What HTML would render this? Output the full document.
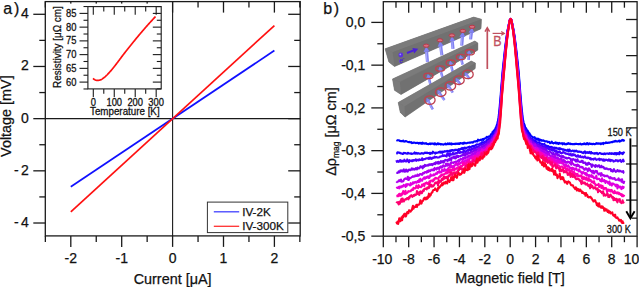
<!DOCTYPE html>
<html><head><meta charset="utf-8"><style>
html,body{margin:0;padding:0;background:#fff;}
svg{display:block;font-family:"Liberation Sans", sans-serif;}
</style></head><body>
<svg width="639" height="287" viewBox="0 0 639 287">
<rect width="639" height="287" fill="#fff"/>
<line x1="45.30" y1="118.65" x2="300.20" y2="118.65" stroke="#1a1a1a" stroke-width="1.1" />
<line x1="172.60" y1="1.60" x2="172.60" y2="235.90" stroke="#1a1a1a" stroke-width="1.1" />
<line x1="70.80" y1="186.74" x2="274.40" y2="50.56" stroke="#1010ff" stroke-width="1.7" />
<line x1="70.80" y1="211.79" x2="274.40" y2="25.51" stroke="#ff1010" stroke-width="1.7" />
<rect x="45.3" y="1.6" width="254.89999999999998" height="234.3" fill="none" stroke="#1a1a1a" stroke-width="1.3"/>
<line x1="33.30" y1="223.01" x2="45.30" y2="223.01" stroke="#1a1a1a" stroke-width="1.3" />
<line x1="288.20" y1="223.01" x2="300.20" y2="223.01" stroke="#1a1a1a" stroke-width="1.3" />
<line x1="39.30" y1="196.92" x2="45.30" y2="196.92" stroke="#1a1a1a" stroke-width="1.3" />
<line x1="294.20" y1="196.92" x2="300.20" y2="196.92" stroke="#1a1a1a" stroke-width="1.3" />
<line x1="33.30" y1="170.83" x2="45.30" y2="170.83" stroke="#1a1a1a" stroke-width="1.3" />
<line x1="288.20" y1="170.83" x2="300.20" y2="170.83" stroke="#1a1a1a" stroke-width="1.3" />
<line x1="39.30" y1="144.74" x2="45.30" y2="144.74" stroke="#1a1a1a" stroke-width="1.3" />
<line x1="294.20" y1="144.74" x2="300.20" y2="144.74" stroke="#1a1a1a" stroke-width="1.3" />
<line x1="33.30" y1="118.65" x2="45.30" y2="118.65" stroke="#1a1a1a" stroke-width="1.3" />
<line x1="288.20" y1="118.65" x2="300.20" y2="118.65" stroke="#1a1a1a" stroke-width="1.3" />
<line x1="39.30" y1="92.56" x2="45.30" y2="92.56" stroke="#1a1a1a" stroke-width="1.3" />
<line x1="294.20" y1="92.56" x2="300.20" y2="92.56" stroke="#1a1a1a" stroke-width="1.3" />
<line x1="33.30" y1="66.47" x2="45.30" y2="66.47" stroke="#1a1a1a" stroke-width="1.3" />
<line x1="288.20" y1="66.47" x2="300.20" y2="66.47" stroke="#1a1a1a" stroke-width="1.3" />
<line x1="39.30" y1="40.38" x2="45.30" y2="40.38" stroke="#1a1a1a" stroke-width="1.3" />
<line x1="294.20" y1="40.38" x2="300.20" y2="40.38" stroke="#1a1a1a" stroke-width="1.3" />
<line x1="33.30" y1="14.29" x2="45.30" y2="14.29" stroke="#1a1a1a" stroke-width="1.3" />
<line x1="288.20" y1="14.29" x2="300.20" y2="14.29" stroke="#1a1a1a" stroke-width="1.3" />
<line x1="45.35" y1="235.90" x2="45.35" y2="241.90" stroke="#1a1a1a" stroke-width="1.3" />
<line x1="45.35" y1="1.60" x2="45.35" y2="7.60" stroke="#1a1a1a" stroke-width="1.3" />
<line x1="70.80" y1="235.90" x2="70.80" y2="246.90" stroke="#1a1a1a" stroke-width="1.3" />
<line x1="70.80" y1="1.60" x2="70.80" y2="12.60" stroke="#1a1a1a" stroke-width="1.3" />
<line x1="96.25" y1="235.90" x2="96.25" y2="241.90" stroke="#1a1a1a" stroke-width="1.3" />
<line x1="96.25" y1="1.60" x2="96.25" y2="7.60" stroke="#1a1a1a" stroke-width="1.3" />
<line x1="121.70" y1="235.90" x2="121.70" y2="246.90" stroke="#1a1a1a" stroke-width="1.3" />
<line x1="121.70" y1="1.60" x2="121.70" y2="12.60" stroke="#1a1a1a" stroke-width="1.3" />
<line x1="147.15" y1="235.90" x2="147.15" y2="241.90" stroke="#1a1a1a" stroke-width="1.3" />
<line x1="147.15" y1="1.60" x2="147.15" y2="7.60" stroke="#1a1a1a" stroke-width="1.3" />
<line x1="172.60" y1="235.90" x2="172.60" y2="246.90" stroke="#1a1a1a" stroke-width="1.3" />
<line x1="172.60" y1="1.60" x2="172.60" y2="12.60" stroke="#1a1a1a" stroke-width="1.3" />
<line x1="198.05" y1="235.90" x2="198.05" y2="241.90" stroke="#1a1a1a" stroke-width="1.3" />
<line x1="198.05" y1="1.60" x2="198.05" y2="7.60" stroke="#1a1a1a" stroke-width="1.3" />
<line x1="223.50" y1="235.90" x2="223.50" y2="246.90" stroke="#1a1a1a" stroke-width="1.3" />
<line x1="223.50" y1="1.60" x2="223.50" y2="12.60" stroke="#1a1a1a" stroke-width="1.3" />
<line x1="248.95" y1="235.90" x2="248.95" y2="241.90" stroke="#1a1a1a" stroke-width="1.3" />
<line x1="248.95" y1="1.60" x2="248.95" y2="7.60" stroke="#1a1a1a" stroke-width="1.3" />
<line x1="274.40" y1="235.90" x2="274.40" y2="246.90" stroke="#1a1a1a" stroke-width="1.3" />
<line x1="274.40" y1="1.60" x2="274.40" y2="12.60" stroke="#1a1a1a" stroke-width="1.3" />
<line x1="299.85" y1="235.90" x2="299.85" y2="241.90" stroke="#1a1a1a" stroke-width="1.3" />
<line x1="299.85" y1="1.60" x2="299.85" y2="7.60" stroke="#1a1a1a" stroke-width="1.3" />
<text x="28.70" y="18.19" font-size="14" text-anchor="end" fill="#111" stroke="#111" stroke-width="0.25" >4</text>
<text x="28.70" y="70.37" font-size="14" text-anchor="end" fill="#111" stroke="#111" stroke-width="0.25" >2</text>
<text x="28.70" y="122.55" font-size="14" text-anchor="end" fill="#111" stroke="#111" stroke-width="0.25" >0</text>
<text x="28.70" y="174.73" font-size="14" text-anchor="end" fill="#111" stroke="#111" stroke-width="0.25" >-<tspan dx="2.2">2</tspan></text>
<text x="28.70" y="226.91" font-size="14" text-anchor="end" fill="#111" stroke="#111" stroke-width="0.25" >-<tspan dx="2.2">4</tspan></text>
<text x="70.80" y="263.40" font-size="14" text-anchor="middle" fill="#111" stroke="#111" stroke-width="0.25" >-2</text>
<text x="121.70" y="263.40" font-size="14" text-anchor="middle" fill="#111" stroke="#111" stroke-width="0.25" >-1</text>
<text x="172.60" y="263.40" font-size="14" text-anchor="middle" fill="#111" stroke="#111" stroke-width="0.25" >0</text>
<text x="223.50" y="263.40" font-size="14" text-anchor="middle" fill="#111" stroke="#111" stroke-width="0.25" >1</text>
<text x="274.40" y="263.40" font-size="14" text-anchor="middle" fill="#111" stroke="#111" stroke-width="0.25" >2</text>
<text x="172.60" y="283.80" font-size="14.4" text-anchor="middle" fill="#111" stroke="#111" stroke-width="0.25" >Current [μA]</text>
<text transform="translate(11.2,116.1) rotate(-90)" font-size="14.4" text-anchor="middle" fill="#111" stroke="#111" stroke-width="0.25">Voltage [mV]</text>
<text x="3.30" y="14.20" font-size="16" text-anchor="start" fill="#111" stroke="#111" stroke-width="0.25" >a<tspan dx="1.8">)</tspan></text>
<rect x="207.4" y="202.1" width="80.4" height="30.5" fill="#fff" stroke="#333" stroke-width="1"/>
<line x1="213.80" y1="211.80" x2="239.20" y2="211.80" stroke="#4040ff" stroke-width="1.3" />
<line x1="213.80" y1="226.30" x2="239.20" y2="226.30" stroke="#ff3030" stroke-width="1.3" />
<text x="242.20" y="215.80" font-size="11.7" text-anchor="start" fill="#111" stroke="#111" stroke-width="0.25" >IV-2K</text>
<text x="242.20" y="229.80" font-size="11.7" text-anchor="start" fill="#111" stroke="#111" stroke-width="0.25" >IV-300K</text>
<rect x="46.3" y="3.6" width="124.6" height="113.6" fill="#fff"/>
<rect x="87.9" y="6.6" width="73.29999999999998" height="82.30000000000001" fill="none" stroke="#1a1a1a" stroke-width="1.1"/>
<line x1="83.50" y1="88.97" x2="87.90" y2="88.97" stroke="#1a1a1a" stroke-width="1.1" />
<line x1="156.80" y1="88.97" x2="161.20" y2="88.97" stroke="#1a1a1a" stroke-width="1.1" />
<line x1="79.50" y1="82.10" x2="87.90" y2="82.10" stroke="#1a1a1a" stroke-width="1.1" />
<line x1="152.80" y1="82.10" x2="161.20" y2="82.10" stroke="#1a1a1a" stroke-width="1.1" />
<line x1="83.50" y1="75.23" x2="87.90" y2="75.23" stroke="#1a1a1a" stroke-width="1.1" />
<line x1="156.80" y1="75.23" x2="161.20" y2="75.23" stroke="#1a1a1a" stroke-width="1.1" />
<line x1="79.50" y1="68.36" x2="87.90" y2="68.36" stroke="#1a1a1a" stroke-width="1.1" />
<line x1="152.80" y1="68.36" x2="161.20" y2="68.36" stroke="#1a1a1a" stroke-width="1.1" />
<line x1="83.50" y1="61.49" x2="87.90" y2="61.49" stroke="#1a1a1a" stroke-width="1.1" />
<line x1="156.80" y1="61.49" x2="161.20" y2="61.49" stroke="#1a1a1a" stroke-width="1.1" />
<line x1="79.50" y1="54.62" x2="87.90" y2="54.62" stroke="#1a1a1a" stroke-width="1.1" />
<line x1="152.80" y1="54.62" x2="161.20" y2="54.62" stroke="#1a1a1a" stroke-width="1.1" />
<line x1="83.50" y1="47.75" x2="87.90" y2="47.75" stroke="#1a1a1a" stroke-width="1.1" />
<line x1="156.80" y1="47.75" x2="161.20" y2="47.75" stroke="#1a1a1a" stroke-width="1.1" />
<line x1="79.50" y1="40.88" x2="87.90" y2="40.88" stroke="#1a1a1a" stroke-width="1.1" />
<line x1="152.80" y1="40.88" x2="161.20" y2="40.88" stroke="#1a1a1a" stroke-width="1.1" />
<line x1="83.50" y1="34.01" x2="87.90" y2="34.01" stroke="#1a1a1a" stroke-width="1.1" />
<line x1="156.80" y1="34.01" x2="161.20" y2="34.01" stroke="#1a1a1a" stroke-width="1.1" />
<line x1="79.50" y1="27.14" x2="87.90" y2="27.14" stroke="#1a1a1a" stroke-width="1.1" />
<line x1="152.80" y1="27.14" x2="161.20" y2="27.14" stroke="#1a1a1a" stroke-width="1.1" />
<line x1="83.50" y1="20.27" x2="87.90" y2="20.27" stroke="#1a1a1a" stroke-width="1.1" />
<line x1="156.80" y1="20.27" x2="161.20" y2="20.27" stroke="#1a1a1a" stroke-width="1.1" />
<line x1="79.50" y1="13.40" x2="87.90" y2="13.40" stroke="#1a1a1a" stroke-width="1.1" />
<line x1="152.80" y1="13.40" x2="161.20" y2="13.40" stroke="#1a1a1a" stroke-width="1.1" />
<line x1="83.50" y1="6.53" x2="87.90" y2="6.53" stroke="#1a1a1a" stroke-width="1.1" />
<line x1="156.80" y1="6.53" x2="161.20" y2="6.53" stroke="#1a1a1a" stroke-width="1.1" />
<line x1="93.30" y1="88.90" x2="93.30" y2="97.10" stroke="#1a1a1a" stroke-width="1.1" />
<line x1="93.30" y1="6.60" x2="93.30" y2="14.80" stroke="#1a1a1a" stroke-width="1.1" />
<line x1="103.78" y1="88.90" x2="103.78" y2="93.70" stroke="#1a1a1a" stroke-width="1.1" />
<line x1="103.78" y1="6.60" x2="103.78" y2="11.40" stroke="#1a1a1a" stroke-width="1.1" />
<line x1="114.26" y1="88.90" x2="114.26" y2="97.10" stroke="#1a1a1a" stroke-width="1.1" />
<line x1="114.26" y1="6.60" x2="114.26" y2="14.80" stroke="#1a1a1a" stroke-width="1.1" />
<line x1="124.74" y1="88.90" x2="124.74" y2="93.70" stroke="#1a1a1a" stroke-width="1.1" />
<line x1="124.74" y1="6.60" x2="124.74" y2="11.40" stroke="#1a1a1a" stroke-width="1.1" />
<line x1="135.22" y1="88.90" x2="135.22" y2="97.10" stroke="#1a1a1a" stroke-width="1.1" />
<line x1="135.22" y1="6.60" x2="135.22" y2="14.80" stroke="#1a1a1a" stroke-width="1.1" />
<line x1="145.70" y1="88.90" x2="145.70" y2="93.70" stroke="#1a1a1a" stroke-width="1.1" />
<line x1="145.70" y1="6.60" x2="145.70" y2="11.40" stroke="#1a1a1a" stroke-width="1.1" />
<line x1="156.18" y1="88.90" x2="156.18" y2="97.10" stroke="#1a1a1a" stroke-width="1.1" />
<line x1="156.18" y1="6.60" x2="156.18" y2="14.80" stroke="#1a1a1a" stroke-width="1.1" />
<text transform="translate(76.40,85.60) scale(1,1.18)" font-size="9.4" text-anchor="end" fill="#111" stroke="#111" stroke-width="0.25" >60</text>
<text transform="translate(76.40,71.86) scale(1,1.18)" font-size="9.4" text-anchor="end" fill="#111" stroke="#111" stroke-width="0.25" >65</text>
<text transform="translate(76.40,58.12) scale(1,1.18)" font-size="9.4" text-anchor="end" fill="#111" stroke="#111" stroke-width="0.25" >70</text>
<text transform="translate(76.40,44.38) scale(1,1.18)" font-size="9.4" text-anchor="end" fill="#111" stroke="#111" stroke-width="0.25" >75</text>
<text transform="translate(76.40,30.64) scale(1,1.18)" font-size="9.4" text-anchor="end" fill="#111" stroke="#111" stroke-width="0.25" >80</text>
<text transform="translate(76.40,16.90) scale(1,1.18)" font-size="9.4" text-anchor="end" fill="#111" stroke="#111" stroke-width="0.25" >85</text>
<text transform="translate(93.30,106.30) scale(1,1.18)" font-size="9.4" text-anchor="middle" fill="#111" stroke="#111" stroke-width="0.25" >0</text>
<text transform="translate(114.26,106.30) scale(1,1.18)" font-size="9.4" text-anchor="middle" fill="#111" stroke="#111" stroke-width="0.25" >100</text>
<text transform="translate(135.22,106.30) scale(1,1.18)" font-size="9.4" text-anchor="middle" fill="#111" stroke="#111" stroke-width="0.25" >200</text>
<text transform="translate(156.18,106.30) scale(1,1.18)" font-size="9.4" text-anchor="middle" fill="#111" stroke="#111" stroke-width="0.25" >300</text>
<text transform="translate(124.80,115.00) scale(1,1.12)" font-size="9.8" text-anchor="middle" fill="#111" stroke="#111" stroke-width="0.25" >Temperature [K]</text>
<text transform="translate(61.2,47.1) rotate(-90) scale(1,1.12)" font-size="9.9" text-anchor="middle" fill="#111" stroke="#111" stroke-width="0.25">Resistivity [μΩ cm]</text>
<polyline fill="none" stroke="#ff1010" stroke-width="1.7" stroke-linejoin="round" points="93.00,78.40 93.50,78.83 94.00,79.26 94.50,79.60 95.00,79.86 95.50,80.09 96.00,80.25 96.50,80.30 97.00,80.30 97.50,80.30 98.00,80.30 98.50,80.30 99.00,80.26 99.50,80.15 100.00,80.00 100.50,79.83 101.00,79.65 101.50,79.41 102.00,79.12 102.50,78.79 103.00,78.42 103.50,78.04 104.00,77.64 104.50,77.24 105.00,76.84 105.50,76.41 106.00,75.96 106.50,75.48 107.00,74.99 107.50,74.47 108.00,73.94 108.50,73.40 109.00,72.85 109.50,72.29 110.00,71.73 110.50,71.18 111.00,70.60 111.50,70.02 112.00,69.42 112.50,68.81 113.00,68.19 113.50,67.56 114.00,66.93 114.50,66.29 115.00,65.65 115.50,65.01 116.00,64.37 116.50,63.73 117.00,63.07 117.50,62.42 118.00,61.75 118.50,61.08 119.00,60.41 119.50,59.73 120.00,59.06 120.50,58.39 121.00,57.71 121.50,57.05 122.00,56.38 122.50,55.72 123.00,55.07 123.50,54.42 124.00,53.78 124.50,53.13 125.00,52.49 125.50,51.85 126.00,51.22 126.50,50.58 127.00,49.95 127.50,49.32 128.00,48.68 128.50,48.06 129.00,47.43 129.50,46.80 130.00,46.17 130.50,45.55 131.00,44.93 131.50,44.30 132.00,43.68 132.50,43.06 133.00,42.44 133.50,41.83 134.00,41.21 134.50,40.60 135.00,39.99 135.50,39.38 136.00,38.77 136.50,38.16 137.00,37.56 137.50,36.96 138.00,36.35 138.50,35.75 139.00,35.15 139.50,34.56 140.00,33.96 140.50,33.37 141.00,32.77 141.50,32.18 142.00,31.60 142.50,31.01 143.00,30.43 143.50,29.85 144.00,29.27 144.50,28.69 145.00,28.12 145.50,27.55 146.00,26.98 146.50,26.41 147.00,25.85 147.50,25.29 148.00,24.73 148.50,24.17 149.00,23.61 149.50,23.05 150.00,22.50 150.50,21.95 151.00,21.40 151.50,20.85 152.00,20.31 152.50,19.77 153.00,19.23 153.50,18.69 154.00,18.15 154.50,17.61 155.00,17.07 155.50,16.53"/>
<polyline fill="none" stroke="#0000ff" stroke-width="2.1" stroke-linejoin="round" points="396.39,140.11 396.96,140.45 397.53,140.27 398.10,140.32 398.67,140.18 399.25,140.51 399.82,141.06 400.39,140.90 400.96,141.20 401.53,141.01 402.10,141.14 402.67,141.16 403.24,140.59 403.81,141.56 404.38,141.53 404.96,141.61 405.53,140.93 406.10,141.00 406.67,141.38 407.24,141.62 407.81,141.97 408.38,141.93 408.95,142.21 409.52,141.89 410.10,142.30 410.67,142.41 411.24,142.12 411.81,143.03 412.38,142.70 412.95,142.99 413.52,142.43 414.09,142.46 414.66,142.66 415.23,142.81 415.81,143.13 416.38,143.05 416.95,142.87 417.52,142.74 418.09,142.94 418.66,143.60 419.23,142.93 419.80,143.34 420.37,143.44 420.95,142.80 421.52,143.38 422.09,143.85 422.66,142.72 423.23,143.35 423.80,143.46 424.37,143.24 424.94,143.73 425.51,143.57 426.08,143.11 426.66,143.94 427.23,143.92 427.80,144.04 428.37,144.25 428.94,143.90 429.51,143.84 430.08,143.37 430.65,144.07 431.22,143.66 431.80,143.74 432.37,143.48 432.94,143.61 433.51,143.78 434.08,144.43 434.65,143.29 435.22,143.51 435.79,144.12 436.36,144.55 436.93,144.26 437.51,143.41 438.08,143.20 438.65,144.21 439.22,143.84 439.79,143.71 440.36,144.44 440.93,144.49 441.50,144.15 442.07,144.18 442.65,144.24 443.22,144.64 443.79,144.29 444.36,144.25 444.93,144.25 445.50,143.50 446.07,144.48 446.64,144.35 447.21,144.19 447.78,143.30 448.36,143.75 448.93,144.25 449.50,143.30 450.07,143.85 450.64,144.26 451.21,143.42 451.78,144.42 452.35,144.03 452.92,143.77 453.49,143.91 454.07,144.01 454.64,143.80 455.21,144.13 455.78,143.47 456.35,143.53 456.92,144.01 457.49,143.63 458.06,143.28 458.63,143.88 459.21,144.03 459.78,143.32 460.35,142.95 460.92,143.35 461.49,143.30 462.06,143.20 462.63,143.75 463.20,142.85 463.77,143.60 464.34,142.67 464.92,142.78 465.49,143.22 466.06,143.34 466.63,143.19 467.20,142.95 467.77,142.81 468.34,142.75 468.91,142.83 469.48,142.50 470.06,142.59 470.63,142.61 471.20,142.32 471.77,142.48 472.34,142.30 472.91,142.68 473.48,141.96 474.05,141.55 474.62,141.42 475.19,141.40 475.77,141.57 476.34,140.97 476.91,141.06 477.48,141.40 478.05,139.69 478.62,140.03 479.19,140.35 479.76,140.24 480.33,140.03 480.91,139.65 481.48,139.88 482.05,139.60 482.62,139.16 483.19,140.03 483.76,139.14 484.33,138.63 484.90,138.59 485.47,138.32 486.04,138.13 486.62,136.93 487.19,137.42 487.76,137.63 488.33,136.52 488.90,136.53 489.47,136.48 490.04,136.01 490.61,135.74 490.93,134.30 491.25,134.42 491.56,134.05 491.88,133.98 492.20,133.72 492.52,131.95 492.83,132.82 493.15,131.46 493.47,131.74 493.79,130.51 494.10,130.61 494.42,130.48 494.74,129.50 495.05,129.07 495.37,128.70 495.69,127.84 496.01,127.07 496.32,126.88 496.64,125.87 496.96,124.46 497.28,124.46 497.59,121.89 497.91,121.24 498.23,119.30 498.54,117.40 498.86,115.00 499.18,112.00 499.50,109.00 499.81,105.42 500.13,101.95 500.45,98.56 500.77,94.36 501.08,90.40 501.40,86.40 501.72,82.66 502.03,78.45 502.35,74.62 502.67,70.84 502.99,67.72 503.30,64.56 503.62,61.77 503.94,58.89 504.25,55.79 504.57,53.07 504.89,50.21 505.21,47.41 505.52,44.68 505.84,42.33 506.16,39.86 506.48,37.53 506.79,35.37 507.11,33.30 507.43,31.44 507.74,29.58 508.06,28.13 508.38,26.67 508.70,25.18 509.01,23.48 509.33,21.66 509.65,20.41 509.97,19.76 510.28,19.38 510.60,19.07 510.92,19.36 511.23,19.64 511.55,20.34 511.87,21.60 512.19,23.53 512.50,25.13 512.82,26.56 513.14,28.07 513.46,29.68 513.77,31.37 514.09,33.35 514.41,35.35 514.72,37.61 515.04,39.94 515.36,42.34 515.68,44.74 515.99,47.46 516.31,50.06 516.63,52.91 516.94,55.71 517.26,58.85 517.58,61.60 517.90,64.67 518.21,67.70 518.53,70.94 518.85,74.37 519.17,78.38 519.48,82.73 519.80,86.62 520.12,90.64 520.43,94.69 520.75,98.42 521.07,102.00 521.39,105.61 521.70,109.09 522.02,111.61 522.34,114.71 522.66,117.59 522.97,119.55 523.29,120.92 523.61,122.57 523.92,123.56 524.24,124.15 524.56,124.96 524.88,126.12 525.19,127.42 525.51,127.59 525.83,128.10 526.15,128.73 526.46,129.01 526.78,130.02 527.10,130.14 527.41,131.16 527.73,130.67 528.05,132.08 528.37,132.21 528.68,132.21 529.00,133.59 529.32,133.66 529.63,133.39 529.95,134.24 530.27,135.00 530.59,135.06 530.90,135.77 531.22,136.02 531.79,136.43 532.36,136.71 532.93,137.44 533.51,137.54 534.08,137.79 534.65,137.19 535.22,138.50 535.79,138.88 536.36,138.54 536.93,138.68 537.50,139.71 538.07,138.59 538.64,139.53 539.22,140.36 539.79,139.34 540.36,140.06 540.93,140.63 541.50,140.08 542.07,140.48 542.64,140.76 543.21,140.29 543.78,140.74 544.36,141.04 544.93,141.39 545.50,141.25 546.07,141.35 546.64,141.22 547.21,141.59 547.78,142.17 548.35,142.03 548.92,141.82 549.49,141.93 550.07,143.26 550.64,142.82 551.21,142.72 551.78,141.66 552.35,142.86 552.92,142.87 553.49,143.36 554.06,142.98 554.63,142.87 555.21,143.13 555.78,142.33 556.35,143.43 556.92,143.23 557.49,142.92 558.06,143.68 558.63,143.90 559.20,142.82 559.77,143.12 560.34,143.50 560.92,143.51 561.49,143.34 562.06,143.18 562.63,144.30 563.20,143.95 563.77,143.20 564.34,143.18 564.91,144.28 565.48,144.05 566.06,144.37 566.63,144.04 567.20,143.48 567.77,143.89 568.34,143.07 568.91,143.58 569.48,143.84 570.05,144.07 570.62,143.65 571.19,143.88 571.77,144.10 572.34,144.09 572.91,144.20 573.48,144.06 574.05,143.89 574.62,144.30 575.19,144.05 575.76,143.76 576.33,143.84 576.91,144.07 577.48,144.04 578.05,144.14 578.62,144.09 579.19,144.16 579.76,144.05 580.33,143.66 580.90,144.25 581.47,144.47 582.04,144.24 582.62,144.02 583.19,144.23 583.76,143.73 584.33,143.39 584.90,144.07 585.47,143.71 586.04,144.28 586.61,143.62 587.18,143.06 587.76,143.60 588.33,144.49 588.90,143.79 589.47,143.42 590.04,143.61 590.61,144.03 591.18,144.00 591.75,143.86 592.32,144.29 592.89,143.99 593.47,143.70 594.04,143.89 594.61,144.23 595.18,143.96 595.75,143.95 596.32,143.18 596.89,143.47 597.46,143.75 598.03,143.35 598.61,143.80 599.18,143.60 599.75,143.67 600.32,143.25 600.89,144.18 601.46,143.69 602.03,143.14 602.60,143.20 603.17,144.03 603.74,142.95 604.32,143.32 604.89,143.30 605.46,142.90 606.03,142.43 606.60,142.84 607.17,142.83 607.74,143.03 608.31,142.84 608.88,142.50 609.46,142.72 610.03,142.53 610.60,142.34 611.17,142.21 611.74,142.02 612.31,142.26 612.88,141.57 613.45,141.64 614.02,141.77 614.59,141.17 615.17,141.45 615.74,140.81 616.31,141.19 616.88,141.54 617.45,141.45 618.02,141.15 618.59,141.00 619.16,140.50 619.73,141.55 620.31,141.01 620.88,141.13 621.45,140.35 622.02,140.51 622.59,139.86 623.16,140.69 623.73,140.67 624.30,139.60"/>
<polyline fill="none" stroke="#2200ff" stroke-width="2.1" stroke-linejoin="round" points="396.39,153.01 396.96,153.35 397.53,152.27 398.10,152.27 398.67,152.65 399.25,152.87 399.82,152.55 400.39,153.23 400.96,153.36 401.53,153.57 402.10,153.62 402.67,154.02 403.24,153.89 403.81,152.78 404.38,153.18 404.96,152.95 405.53,152.96 406.10,153.45 406.67,153.51 407.24,153.75 407.81,152.82 408.38,153.00 408.95,153.58 409.52,153.51 410.10,153.48 410.67,153.60 411.24,153.30 411.81,153.98 412.38,153.83 412.95,153.63 413.52,153.37 414.09,153.60 414.66,152.42 415.23,153.22 415.81,153.68 416.38,152.97 416.95,153.74 417.52,153.70 418.09,152.99 418.66,153.49 419.23,153.43 419.80,153.76 420.37,153.81 420.95,153.48 421.52,153.07 422.09,153.36 422.66,153.37 423.23,153.70 423.80,153.47 424.37,152.97 424.94,152.64 425.51,153.06 426.08,152.85 426.66,152.65 427.23,153.07 427.80,152.86 428.37,153.09 428.94,153.25 429.51,152.78 430.08,154.00 430.65,152.74 431.22,153.35 431.80,152.86 432.37,153.27 432.94,151.62 433.51,152.33 434.08,152.74 434.65,152.85 435.22,153.60 435.79,152.63 436.36,153.02 436.93,152.73 437.51,152.76 438.08,152.51 438.65,152.15 439.22,152.40 439.79,151.61 440.36,152.59 440.93,151.51 441.50,152.02 442.07,152.80 442.65,151.64 443.22,151.67 443.79,152.12 444.36,151.52 444.93,151.05 445.50,151.46 446.07,151.53 446.64,151.50 447.21,150.74 447.78,151.82 448.36,151.69 448.93,150.85 449.50,150.88 450.07,150.48 450.64,151.24 451.21,150.19 451.78,150.74 452.35,150.12 452.92,149.94 453.49,150.51 454.07,150.71 454.64,150.00 455.21,149.61 455.78,150.21 456.35,149.72 456.92,149.80 457.49,150.26 458.06,149.99 458.63,149.13 459.21,150.33 459.78,149.18 460.35,149.44 460.92,148.68 461.49,148.86 462.06,147.97 462.63,149.49 463.20,149.18 463.77,147.89 464.34,147.64 464.92,147.47 465.49,148.64 466.06,147.77 466.63,147.84 467.20,147.60 467.77,147.56 468.34,146.99 468.91,147.37 469.48,146.57 470.06,147.06 470.63,147.10 471.20,147.02 471.77,146.53 472.34,146.05 472.91,146.36 473.48,145.88 474.05,146.62 474.62,146.06 475.19,145.44 475.77,145.07 476.34,144.75 476.91,144.42 477.48,144.47 478.05,144.55 478.62,144.43 479.19,144.24 479.76,144.72 480.33,143.21 480.91,143.33 481.48,144.40 482.05,142.04 482.62,142.45 483.19,142.54 483.76,142.30 484.33,142.17 484.90,141.62 485.47,141.61 486.04,141.17 486.62,141.18 487.19,139.62 487.76,139.71 488.33,139.72 488.90,138.83 489.47,138.37 490.04,138.66 490.61,137.54 490.93,137.80 491.25,137.48 491.56,136.89 491.88,136.57 492.20,135.85 492.52,134.80 492.83,134.97 493.15,134.73 493.47,133.79 493.79,133.51 494.10,133.41 494.42,132.16 494.74,132.34 495.05,132.35 495.37,130.65 495.69,130.35 496.01,129.55 496.32,129.59 496.64,128.23 496.96,127.59 497.28,125.85 497.59,125.02 497.91,123.75 498.23,121.75 498.54,120.89 498.86,118.40 499.18,114.96 499.50,112.64 499.81,109.25 500.13,105.94 500.45,102.17 500.77,97.81 501.08,94.06 501.40,90.34 501.72,85.72 502.03,81.46 502.35,77.47 502.67,73.95 502.99,70.88 503.30,67.90 503.62,64.67 503.94,61.60 504.25,58.73 504.57,55.44 504.89,52.43 505.21,49.62 505.52,46.82 505.84,44.01 506.16,41.42 506.48,39.04 506.79,36.66 507.11,34.32 507.43,32.30 507.74,30.37 508.06,28.71 508.38,27.05 508.70,25.48 509.01,23.79 509.33,22.03 509.65,20.57 509.97,19.76 510.28,19.44 510.60,18.95 510.92,19.39 511.23,19.84 511.55,20.58 511.87,21.93 512.19,23.81 512.50,25.50 512.82,26.96 513.14,28.68 513.46,30.36 513.77,32.34 514.09,34.33 514.41,36.51 514.72,39.02 515.04,41.52 515.36,44.04 515.68,46.84 515.99,49.56 516.31,52.44 516.63,55.52 516.94,58.38 517.26,61.50 517.58,64.62 517.90,67.79 518.21,70.81 518.53,74.18 518.85,77.59 519.17,81.69 519.48,86.14 519.80,89.91 520.12,94.59 520.43,98.00 520.75,102.09 521.07,105.87 521.39,109.55 521.70,112.12 522.02,114.87 522.34,118.32 522.66,120.70 522.97,122.50 523.29,124.60 523.61,125.12 523.92,126.29 524.24,127.61 524.56,128.25 524.88,129.65 525.19,129.05 525.51,130.11 525.83,129.33 526.15,131.87 526.46,131.87 526.78,132.99 527.10,134.06 527.41,133.55 527.73,133.92 528.05,134.29 528.37,134.60 528.68,135.16 529.00,136.20 529.32,136.35 529.63,136.78 529.95,137.06 530.27,137.93 530.59,138.07 530.90,138.08 531.22,138.73 531.79,138.84 532.36,138.82 532.93,140.44 533.51,140.38 534.08,140.09 534.65,141.36 535.22,141.34 535.79,140.76 536.36,142.50 536.93,142.17 537.50,142.67 538.07,142.58 538.64,142.64 539.22,142.21 539.79,143.58 540.36,143.36 540.93,143.43 541.50,143.94 542.07,144.04 542.64,144.53 543.21,144.27 543.78,144.64 544.36,143.90 544.93,144.90 545.50,145.62 546.07,146.14 546.64,145.56 547.21,145.87 547.78,146.85 548.35,146.16 548.92,146.82 549.49,147.43 550.07,146.84 550.64,147.54 551.21,146.78 551.78,147.34 552.35,147.34 552.92,147.56 553.49,148.15 554.06,148.86 554.63,147.57 555.21,147.73 555.78,148.35 556.35,147.75 556.92,148.58 557.49,148.72 558.06,148.44 558.63,148.92 559.20,148.07 559.77,149.24 560.34,148.28 560.92,148.77 561.49,148.93 562.06,149.10 562.63,149.78 563.20,149.52 563.77,149.39 564.34,149.91 564.91,150.48 565.48,149.85 566.06,150.10 566.63,150.59 567.20,150.22 567.77,149.59 568.34,151.41 568.91,151.37 569.48,149.52 570.05,150.50 570.62,150.79 571.19,151.13 571.77,151.08 572.34,150.73 572.91,150.45 573.48,151.07 574.05,151.58 574.62,150.68 575.19,150.79 575.76,151.34 576.33,150.54 576.91,151.39 577.48,151.39 578.05,151.88 578.62,151.43 579.19,151.43 579.76,151.73 580.33,151.97 580.90,151.75 581.47,152.12 582.04,152.51 582.62,152.77 583.19,153.06 583.76,151.97 584.33,152.19 584.90,151.29 585.47,153.36 586.04,152.20 586.61,152.57 587.18,152.87 587.76,152.05 588.33,152.93 588.90,152.75 589.47,151.97 590.04,152.99 590.61,153.44 591.18,152.07 591.75,153.34 592.32,153.11 592.89,153.27 593.47,153.29 594.04,153.73 594.61,153.06 595.18,153.60 595.75,153.04 596.32,153.60 596.89,152.93 597.46,153.29 598.03,154.16 598.61,153.61 599.18,153.36 599.75,152.94 600.32,153.13 600.89,153.62 601.46,153.99 602.03,153.78 602.60,153.84 603.17,153.60 603.74,154.26 604.32,153.47 604.89,153.41 605.46,154.08 606.03,153.70 606.60,153.55 607.17,153.41 607.74,153.56 608.31,153.96 608.88,153.83 609.46,153.10 610.03,153.84 610.60,153.71 611.17,153.16 611.74,153.96 612.31,153.46 612.88,153.41 613.45,153.91 614.02,154.13 614.59,153.19 615.17,153.68 615.74,153.05 616.31,154.50 616.88,153.18 617.45,153.93 618.02,153.06 618.59,153.70 619.16,154.32 619.73,152.10 620.31,153.04 620.88,153.45 621.45,153.15 622.02,152.85 622.59,154.12 623.16,153.14 623.73,152.32 624.30,153.45"/>
<polyline fill="none" stroke="#4a00ff" stroke-width="2.1" stroke-linejoin="round" points="396.39,160.25 396.96,161.87 397.53,160.87 398.10,161.26 398.67,161.88 399.25,161.21 399.82,160.33 400.39,160.14 400.96,161.76 401.53,161.49 402.10,160.58 402.67,161.52 403.24,161.29 403.81,161.36 404.38,159.68 404.96,160.77 405.53,161.43 406.10,161.31 406.67,161.37 407.24,159.44 407.81,160.91 408.38,161.07 408.95,162.21 409.52,160.18 410.10,160.50 410.67,160.67 411.24,161.12 411.81,160.32 412.38,161.19 412.95,160.04 413.52,160.60 414.09,160.10 414.66,160.44 415.23,159.90 415.81,159.33 416.38,160.81 416.95,160.30 417.52,159.75 418.09,160.12 418.66,160.50 419.23,159.31 419.80,159.73 420.37,160.02 420.95,159.94 421.52,159.37 422.09,158.28 422.66,160.11 423.23,159.51 423.80,159.25 424.37,159.01 424.94,159.23 425.51,158.76 426.08,158.34 426.66,158.42 427.23,158.42 427.80,158.32 428.37,157.93 428.94,158.87 429.51,157.67 430.08,158.71 430.65,157.67 431.22,158.36 431.80,158.86 432.37,158.10 432.94,157.48 433.51,157.83 434.08,157.80 434.65,156.64 435.22,157.19 435.79,157.53 436.36,157.08 436.93,157.30 437.51,157.58 438.08,157.50 438.65,157.49 439.22,157.21 439.79,156.61 440.36,156.66 440.93,156.42 441.50,156.27 442.07,156.22 442.65,155.22 443.22,155.89 443.79,155.94 444.36,155.28 444.93,155.69 445.50,155.88 446.07,155.37 446.64,156.52 447.21,153.73 447.78,154.98 448.36,153.93 448.93,155.41 449.50,156.24 450.07,153.18 450.64,154.56 451.21,154.66 451.78,154.07 452.35,154.44 452.92,152.73 453.49,154.37 454.07,153.98 454.64,153.66 455.21,153.19 455.78,153.76 456.35,153.00 456.92,153.28 457.49,152.73 458.06,151.61 458.63,152.75 459.21,152.75 459.78,152.93 460.35,151.86 460.92,152.21 461.49,152.44 462.06,152.03 462.63,152.52 463.20,152.80 463.77,151.00 464.34,150.28 464.92,151.71 465.49,151.94 466.06,151.44 466.63,151.23 467.20,150.25 467.77,150.04 468.34,150.79 468.91,149.60 469.48,148.91 470.06,149.21 470.63,151.02 471.20,150.51 471.77,148.82 472.34,148.59 472.91,148.93 473.48,148.15 474.05,149.10 474.62,148.07 475.19,147.26 475.77,148.39 476.34,147.06 476.91,147.27 477.48,146.89 478.05,146.46 478.62,146.57 479.19,145.74 479.76,144.83 480.33,144.37 480.91,144.66 481.48,144.70 482.05,144.87 482.62,144.66 483.19,144.69 483.76,144.17 484.33,143.37 484.90,143.13 485.47,142.01 486.04,142.79 486.62,142.82 487.19,142.47 487.76,141.71 488.33,141.25 488.90,141.44 489.47,140.44 490.04,140.34 490.61,139.70 490.93,139.15 491.25,139.40 491.56,137.93 491.88,137.63 492.20,136.94 492.52,136.49 492.83,137.36 493.15,137.00 493.47,135.53 493.79,135.35 494.10,135.20 494.42,134.48 494.74,134.18 495.05,132.22 495.37,132.00 495.69,132.00 496.01,131.90 496.32,130.42 496.64,129.09 496.96,128.50 497.28,127.35 497.59,126.14 497.91,126.25 498.23,123.77 498.54,122.27 498.86,120.84 499.18,117.88 499.50,114.63 499.81,111.17 500.13,108.05 500.45,104.67 500.77,100.41 501.08,96.48 501.40,92.06 501.72,87.90 502.03,83.51 502.35,79.67 502.67,76.23 502.99,72.40 503.30,69.43 503.62,66.35 503.94,63.13 504.25,60.04 504.57,57.01 504.89,54.00 505.21,50.90 505.52,47.97 505.84,45.01 506.16,42.62 506.48,39.88 506.79,37.40 507.11,34.97 507.43,32.87 507.74,30.77 508.06,29.03 508.38,27.38 508.70,25.71 509.01,24.02 509.33,22.03 509.65,20.66 509.97,19.75 510.28,19.23 510.60,18.98 510.92,19.32 511.23,19.72 511.55,20.51 511.87,22.13 512.19,23.90 512.50,25.70 512.82,27.46 513.14,29.09 513.46,30.85 513.77,32.88 514.09,35.05 514.41,37.39 514.72,39.93 515.04,42.45 515.36,44.94 515.68,47.94 515.99,50.77 516.31,53.89 516.63,56.87 516.94,60.10 517.26,63.49 517.58,66.17 517.90,69.27 518.21,72.40 518.53,75.55 518.85,79.21 519.17,83.63 519.48,87.63 519.80,91.59 520.12,95.78 520.43,100.41 520.75,103.99 521.07,107.81 521.39,111.47 521.70,114.96 522.02,118.14 522.34,120.43 522.66,122.31 522.97,124.08 523.29,126.12 523.61,127.44 523.92,127.55 524.24,128.96 524.56,129.74 524.88,130.39 525.19,130.79 525.51,130.99 525.83,132.06 526.15,132.06 526.46,134.19 526.78,134.33 527.10,133.84 527.41,135.82 527.73,136.02 528.05,134.91 528.37,137.52 528.68,137.40 529.00,138.57 529.32,137.13 529.63,138.56 529.95,138.89 530.27,139.14 530.59,139.47 530.90,140.29 531.22,139.13 531.79,139.78 532.36,140.16 532.93,141.08 533.51,141.47 534.08,142.42 534.65,142.73 535.22,142.95 535.79,142.87 536.36,143.31 536.93,144.40 537.50,144.57 538.07,144.46 538.64,144.47 539.22,145.79 539.79,144.82 540.36,145.77 540.93,146.31 541.50,145.76 542.07,146.63 542.64,145.78 543.21,147.25 543.78,147.04 544.36,146.27 544.93,147.80 545.50,147.16 546.07,148.64 546.64,147.76 547.21,148.28 547.78,148.76 548.35,148.63 548.92,149.18 549.49,148.92 550.07,149.82 550.64,149.62 551.21,149.92 551.78,148.40 552.35,150.80 552.92,150.32 553.49,149.45 554.06,150.68 554.63,151.05 555.21,151.55 555.78,150.47 556.35,152.12 556.92,151.30 557.49,152.90 558.06,151.60 558.63,152.21 559.20,151.76 559.77,151.47 560.34,152.87 560.92,152.90 561.49,153.39 562.06,153.13 562.63,152.45 563.20,151.96 563.77,152.66 564.34,152.78 564.91,152.82 565.48,153.74 566.06,153.72 566.63,153.50 567.20,153.88 567.77,153.82 568.34,154.14 568.91,154.57 569.48,154.81 570.05,153.99 570.62,153.64 571.19,155.44 571.77,154.81 572.34,155.50 572.91,154.05 573.48,154.92 574.05,155.25 574.62,154.53 575.19,155.18 575.76,156.01 576.33,156.34 576.91,156.75 577.48,155.47 578.05,155.29 578.62,156.51 579.19,156.87 579.76,156.57 580.33,155.84 580.90,157.13 581.47,157.24 582.04,157.20 582.62,156.70 583.19,157.25 583.76,157.62 584.33,156.95 584.90,156.31 585.47,157.64 586.04,157.82 586.61,157.64 587.18,158.23 587.76,157.48 588.33,157.86 588.90,157.82 589.47,158.41 590.04,159.08 590.61,158.11 591.18,159.51 591.75,159.30 592.32,158.96 592.89,158.93 593.47,159.69 594.04,158.66 594.61,158.78 595.18,158.32 595.75,159.28 596.32,159.86 596.89,159.48 597.46,159.49 598.03,159.22 598.61,159.51 599.18,158.68 599.75,160.17 600.32,159.41 600.89,159.10 601.46,159.37 602.03,159.40 602.60,160.43 603.17,160.61 603.74,159.30 604.32,160.66 604.89,160.70 605.46,159.92 606.03,159.46 606.60,159.93 607.17,160.04 607.74,160.65 608.31,160.29 608.88,159.38 609.46,160.71 610.03,159.75 610.60,161.17 611.17,160.00 611.74,160.33 612.31,160.27 612.88,160.48 613.45,161.56 614.02,161.33 614.59,161.22 615.17,161.08 615.74,160.04 616.31,160.65 616.88,160.65 617.45,160.43 618.02,161.30 618.59,160.61 619.16,160.65 619.73,160.48 620.31,159.92 620.88,161.45 621.45,161.88 622.02,161.24 622.59,160.60 623.16,159.64 623.73,161.30 624.30,161.91"/>
<polyline fill="none" stroke="#8000f4" stroke-width="2.1" stroke-linejoin="round" points="396.39,172.36 396.96,172.69 397.53,172.97 398.10,172.63 398.67,171.46 399.25,172.38 399.82,172.09 400.39,170.41 400.96,171.08 401.53,170.29 402.10,171.08 402.67,171.44 403.24,170.22 403.81,169.45 404.38,171.62 404.96,170.89 405.53,171.53 406.10,169.52 406.67,171.03 407.24,171.61 407.81,171.45 408.38,169.83 408.95,170.04 409.52,169.64 410.10,170.31 410.67,170.22 411.24,169.45 411.81,168.35 412.38,169.66 412.95,168.71 413.52,169.33 414.09,168.96 414.66,169.75 415.23,169.29 415.81,168.08 416.38,168.49 416.95,169.31 417.52,167.61 418.09,168.13 418.66,168.50 419.23,168.40 419.80,167.75 420.37,166.36 420.95,166.24 421.52,167.12 422.09,167.06 422.66,168.38 423.23,165.91 423.80,167.12 424.37,166.72 424.94,164.91 425.51,165.34 426.08,165.85 426.66,165.25 427.23,165.33 427.80,165.60 428.37,164.58 428.94,165.30 429.51,164.40 430.08,164.30 430.65,164.89 431.22,163.98 431.80,164.41 432.37,165.15 432.94,163.93 433.51,163.66 434.08,164.10 434.65,163.20 435.22,164.03 435.79,162.27 436.36,163.41 436.93,162.48 437.51,162.13 438.08,163.73 438.65,161.79 439.22,163.41 439.79,162.51 440.36,162.89 440.93,161.08 441.50,162.38 442.07,162.38 442.65,161.14 443.22,160.96 443.79,162.55 444.36,160.83 444.93,160.25 445.50,159.94 446.07,160.51 446.64,160.26 447.21,159.99 447.78,160.87 448.36,159.31 448.93,159.69 449.50,160.20 450.07,158.36 450.64,159.59 451.21,159.96 451.78,157.63 452.35,157.65 452.92,157.52 453.49,156.81 454.07,158.22 454.64,156.48 455.21,157.92 455.78,158.41 456.35,156.16 456.92,156.87 457.49,155.62 458.06,157.28 458.63,156.08 459.21,156.23 459.78,156.28 460.35,156.44 460.92,155.66 461.49,155.72 462.06,155.16 462.63,155.43 463.20,154.37 463.77,155.03 464.34,153.49 464.92,154.28 465.49,155.72 466.06,154.28 466.63,153.17 467.20,154.01 467.77,152.97 468.34,152.30 468.91,152.72 469.48,153.51 470.06,153.06 470.63,152.51 471.20,151.72 471.77,151.38 472.34,152.79 472.91,151.79 473.48,150.72 474.05,149.67 474.62,149.91 475.19,152.25 475.77,149.51 476.34,149.96 476.91,149.87 477.48,149.33 478.05,148.96 478.62,147.93 479.19,147.85 479.76,149.42 480.33,147.47 480.91,148.27 481.48,146.25 482.05,146.93 482.62,147.00 483.19,147.23 483.76,145.45 484.33,146.30 484.90,145.83 485.47,144.72 486.04,145.18 486.62,143.86 487.19,143.53 487.76,143.63 488.33,141.34 488.90,142.64 489.47,141.53 490.04,140.68 490.61,140.80 490.93,141.26 491.25,140.08 491.56,140.81 491.88,138.74 492.20,138.19 492.52,139.68 492.83,138.42 493.15,138.31 493.47,136.62 493.79,137.23 494.10,136.36 494.42,136.10 494.74,135.15 495.05,135.40 495.37,133.55 495.69,132.73 496.01,131.73 496.32,132.82 496.64,130.76 496.96,129.71 497.28,128.84 497.59,128.12 497.91,126.39 498.23,125.80 498.54,124.01 498.86,122.00 499.18,119.37 499.50,116.87 499.81,113.53 500.13,110.32 500.45,106.68 500.77,102.72 501.08,97.81 501.40,94.13 501.72,89.76 502.03,85.91 502.35,81.34 502.67,77.92 502.99,74.62 503.30,71.36 503.62,68.40 503.94,64.98 504.25,61.97 504.57,58.40 504.89,55.17 505.21,52.39 505.52,49.30 505.84,46.39 506.16,43.55 506.48,40.88 506.79,38.12 507.11,35.90 507.43,33.44 507.74,31.47 508.06,29.43 508.38,27.45 508.70,25.83 509.01,24.32 509.33,22.26 509.65,20.57 509.97,19.85 510.28,19.35 510.60,18.94 510.92,19.41 511.23,19.84 511.55,20.77 511.87,22.28 512.19,24.40 512.50,26.14 512.82,27.82 513.14,29.53 513.46,31.38 513.77,33.51 514.09,35.79 514.41,38.17 514.72,40.82 515.04,43.47 515.36,46.50 515.68,49.31 515.99,52.22 516.31,55.16 516.63,58.57 516.94,61.78 517.26,64.88 517.58,68.04 517.90,71.00 518.21,74.80 518.53,78.07 518.85,82.33 519.17,85.71 519.48,89.93 519.80,94.70 520.12,98.52 520.43,102.67 520.75,106.47 521.07,110.07 521.39,114.27 521.70,117.25 522.02,120.46 522.34,122.08 522.66,124.30 522.97,125.53 523.29,127.72 523.61,127.48 523.92,129.86 524.24,131.17 524.56,132.23 524.88,131.39 525.19,133.47 525.51,132.90 525.83,133.48 526.15,133.68 526.46,135.92 526.78,136.78 527.10,135.78 527.41,136.17 527.73,136.95 528.05,139.37 528.37,138.83 528.68,138.25 529.00,137.86 529.32,139.07 529.63,140.76 529.95,141.62 530.27,140.56 530.59,140.62 530.90,141.08 531.22,140.45 531.79,142.88 532.36,142.03 532.93,143.96 533.51,142.53 534.08,143.25 534.65,144.71 535.22,144.38 535.79,145.79 536.36,145.61 536.93,145.14 537.50,146.67 538.07,147.13 538.64,145.55 539.22,148.39 539.79,147.77 540.36,148.24 540.93,146.75 541.50,147.82 542.07,148.36 542.64,149.63 543.21,148.19 543.78,148.87 544.36,148.38 544.93,149.88 545.50,150.56 546.07,149.45 546.64,150.47 547.21,151.48 547.78,152.48 548.35,152.10 548.92,151.69 549.49,151.34 550.07,151.74 550.64,152.15 551.21,152.92 551.78,153.00 552.35,154.38 552.92,153.64 553.49,152.92 554.06,154.90 554.63,154.70 555.21,154.32 555.78,153.95 556.35,153.36 556.92,154.13 557.49,155.63 558.06,154.65 558.63,154.48 559.20,155.69 559.77,155.90 560.34,156.32 560.92,156.53 561.49,157.22 562.06,155.86 562.63,157.27 563.20,156.10 563.77,157.41 564.34,157.23 564.91,157.44 565.48,158.10 566.06,157.59 566.63,158.52 567.20,158.52 567.77,158.18 568.34,157.86 568.91,157.90 569.48,158.21 570.05,158.60 570.62,158.88 571.19,161.09 571.77,159.66 572.34,159.91 572.91,158.97 573.48,159.24 574.05,159.67 574.62,160.18 575.19,159.52 575.76,161.48 576.33,160.17 576.91,161.46 577.48,159.31 578.05,161.06 578.62,161.43 579.19,161.54 579.76,162.00 580.33,161.95 580.90,162.03 581.47,160.79 582.04,161.74 582.62,160.79 583.19,162.97 583.76,162.90 584.33,162.72 584.90,162.44 585.47,162.76 586.04,164.57 586.61,164.64 587.18,163.58 587.76,164.65 588.33,162.85 588.90,162.76 589.47,163.90 590.04,163.79 590.61,164.16 591.18,164.82 591.75,166.90 592.32,164.55 592.89,165.18 593.47,165.49 594.04,165.43 594.61,166.24 595.18,166.97 595.75,165.06 596.32,166.17 596.89,166.03 597.46,166.61 598.03,165.47 598.61,165.47 599.18,165.24 599.75,167.33 600.32,167.25 600.89,167.32 601.46,165.81 602.03,167.31 602.60,167.20 603.17,166.89 603.74,167.37 604.32,168.60 604.89,168.64 605.46,168.38 606.03,168.88 606.60,168.25 607.17,168.84 607.74,168.94 608.31,169.42 608.88,169.12 609.46,169.19 610.03,169.32 610.60,169.09 611.17,171.16 611.74,170.11 612.31,170.17 612.88,171.55 613.45,171.05 614.02,169.15 614.59,170.79 615.17,171.00 615.74,171.82 616.31,171.54 616.88,171.27 617.45,170.05 618.02,170.37 618.59,171.25 619.16,171.51 619.73,170.57 620.31,171.11 620.88,171.20 621.45,171.61 622.02,171.90 622.59,171.58 623.16,171.03 623.73,172.82 624.30,173.16"/>
<polyline fill="none" stroke="#b000f0" stroke-width="2.1" stroke-linejoin="round" points="396.39,181.35 396.96,182.10 397.53,181.49 398.10,181.52 398.67,181.23 399.25,180.10 399.82,181.00 400.39,181.20 400.96,179.54 401.53,181.65 402.10,181.60 402.67,181.23 403.24,181.21 403.81,180.07 404.38,179.06 404.96,178.69 405.53,178.36 406.10,178.94 406.67,178.66 407.24,179.05 407.81,176.76 408.38,180.02 408.95,179.82 409.52,177.83 410.10,178.22 410.67,177.89 411.24,177.55 411.81,177.00 412.38,176.89 412.95,176.16 413.52,176.77 414.09,176.43 414.66,176.52 415.23,175.41 415.81,175.93 416.38,175.75 416.95,176.00 417.52,174.49 418.09,175.46 418.66,175.71 419.23,175.21 419.80,174.25 420.37,173.95 420.95,173.95 421.52,174.51 422.09,174.96 422.66,173.41 423.23,172.82 423.80,173.42 424.37,173.08 424.94,172.00 425.51,171.93 426.08,172.23 426.66,172.64 427.23,170.96 427.80,170.90 428.37,171.89 428.94,170.33 429.51,171.18 430.08,171.17 430.65,170.60 431.22,169.68 431.80,170.23 432.37,169.81 432.94,170.14 433.51,169.01 434.08,170.33 434.65,167.94 435.22,168.92 435.79,168.86 436.36,169.41 436.93,167.97 437.51,168.68 438.08,167.60 438.65,168.43 439.22,169.02 439.79,167.13 440.36,167.60 440.93,166.31 441.50,167.58 442.07,167.54 442.65,166.39 443.22,165.25 443.79,166.24 444.36,166.61 444.93,166.35 445.50,165.91 446.07,163.61 446.64,164.31 447.21,165.75 447.78,163.45 448.36,165.10 448.93,165.49 449.50,164.39 450.07,164.47 450.64,163.12 451.21,162.20 451.78,162.89 452.35,162.60 452.92,162.52 453.49,162.90 454.07,162.04 454.64,162.10 455.21,162.08 455.78,161.53 456.35,162.79 456.92,161.47 457.49,160.98 458.06,160.54 458.63,160.00 459.21,161.35 459.78,160.19 460.35,159.01 460.92,159.20 461.49,159.32 462.06,158.85 462.63,159.84 463.20,157.84 463.77,158.92 464.34,158.42 464.92,157.15 465.49,157.88 466.06,157.54 466.63,157.77 467.20,156.78 467.77,157.13 468.34,155.33 468.91,155.54 469.48,156.77 470.06,156.71 470.63,155.62 471.20,154.89 471.77,155.94 472.34,153.16 472.91,153.89 473.48,154.76 474.05,154.45 474.62,152.81 475.19,151.83 475.77,154.16 476.34,152.81 476.91,151.67 477.48,152.09 478.05,152.44 478.62,149.35 479.19,151.94 479.76,151.31 480.33,148.75 480.91,150.67 481.48,148.32 482.05,150.30 482.62,149.38 483.19,150.51 483.76,147.90 484.33,148.03 484.90,148.48 485.47,146.76 486.04,146.31 486.62,146.16 487.19,145.95 487.76,144.70 488.33,145.45 488.90,144.99 489.47,144.08 490.04,144.80 490.61,142.60 490.93,143.52 491.25,141.67 491.56,142.28 491.88,139.73 492.20,140.96 492.52,140.20 492.83,139.48 493.15,138.90 493.47,138.61 493.79,137.81 494.10,136.14 494.42,136.87 494.74,136.37 495.05,135.83 495.37,134.83 495.69,134.95 496.01,135.04 496.32,133.54 496.64,132.61 496.96,133.25 497.28,132.04 497.59,130.99 497.91,130.07 498.23,127.74 498.54,126.30 498.86,125.00 499.18,121.85 499.50,119.20 499.81,116.27 500.13,112.86 500.45,108.93 500.77,105.41 501.08,100.80 501.40,96.83 501.72,92.56 502.03,88.12 502.35,84.10 502.67,79.93 502.99,76.46 503.30,73.32 503.62,70.29 503.94,67.20 504.25,63.44 504.57,60.30 504.89,56.82 505.21,53.63 505.52,50.56 505.84,47.64 506.16,44.66 506.48,41.95 506.79,39.00 507.11,36.66 507.43,34.25 507.74,31.90 508.06,29.89 508.38,27.90 508.70,26.08 509.01,24.38 509.33,22.37 509.65,21.03 509.97,19.79 510.28,19.60 510.60,19.02 510.92,19.44 511.23,19.93 511.55,20.60 511.87,22.55 512.19,24.47 512.50,26.03 512.82,28.04 513.14,29.90 513.46,31.94 513.77,34.32 514.09,36.51 514.41,39.18 514.72,41.90 515.04,44.53 515.36,47.70 515.68,50.42 515.99,53.56 516.31,56.98 516.63,60.11 516.94,63.61 517.26,66.64 517.58,70.21 517.90,73.20 518.21,76.85 518.53,79.83 518.85,84.02 519.17,87.85 519.48,92.24 519.80,96.57 520.12,100.91 520.43,104.55 520.75,108.02 521.07,112.71 521.39,115.70 521.70,119.05 522.02,122.31 522.34,123.47 522.66,125.97 522.97,127.58 523.29,128.57 523.61,130.52 523.92,131.16 524.24,131.53 524.56,132.22 524.88,134.38 525.19,133.90 525.51,135.52 525.83,136.02 526.15,134.75 526.46,135.95 526.78,137.35 527.10,138.14 527.41,139.00 527.73,139.52 528.05,140.20 528.37,139.57 528.68,140.18 529.00,141.42 529.32,140.92 529.63,142.52 529.95,140.84 530.27,143.01 530.59,142.72 530.90,141.65 531.22,144.30 531.79,144.33 532.36,144.63 532.93,144.27 533.51,145.24 534.08,147.26 534.65,145.84 535.22,144.17 535.79,146.64 536.36,146.75 536.93,147.96 537.50,148.11 538.07,148.04 538.64,148.44 539.22,150.26 539.79,148.63 540.36,151.64 540.93,150.00 541.50,149.90 542.07,151.72 542.64,151.88 543.21,150.94 543.78,152.68 544.36,150.96 544.93,152.00 545.50,153.93 546.07,153.15 546.64,152.63 547.21,154.37 547.78,154.99 548.35,154.54 548.92,153.41 549.49,154.85 550.07,155.72 550.64,156.27 551.21,157.38 551.78,155.98 552.35,156.05 552.92,156.64 553.49,157.87 554.06,156.42 554.63,158.43 555.21,155.47 555.78,158.50 556.35,157.57 556.92,158.70 557.49,159.11 558.06,157.85 558.63,158.94 559.20,159.42 559.77,159.91 560.34,158.93 560.92,159.10 561.49,158.58 562.06,162.31 562.63,160.37 563.20,160.55 563.77,159.76 564.34,161.88 564.91,160.93 565.48,162.69 566.06,162.44 566.63,161.99 567.20,162.75 567.77,161.50 568.34,162.32 568.91,162.33 569.48,161.99 570.05,163.21 570.62,163.29 571.19,164.74 571.77,161.17 572.34,163.49 572.91,163.51 573.48,164.08 574.05,164.99 574.62,165.19 575.19,165.10 575.76,164.92 576.33,165.90 576.91,166.01 577.48,164.49 578.05,165.96 578.62,165.30 579.19,165.68 579.76,166.95 580.33,167.11 580.90,167.36 581.47,166.78 582.04,167.51 582.62,167.15 583.19,168.37 583.76,168.82 584.33,169.86 584.90,169.68 585.47,168.24 586.04,168.72 586.61,168.54 587.18,169.73 587.76,171.25 588.33,170.45 588.90,168.36 589.47,169.31 590.04,169.48 590.61,171.11 591.18,170.91 591.75,171.35 592.32,172.73 592.89,170.87 593.47,171.06 594.04,173.48 594.61,172.40 595.18,171.72 595.75,170.94 596.32,171.54 596.89,171.01 597.46,173.20 598.03,173.39 598.61,174.34 599.18,173.65 599.75,173.41 600.32,173.58 600.89,175.87 601.46,173.17 602.03,174.90 602.60,174.98 603.17,175.64 603.74,175.03 604.32,175.93 604.89,176.37 605.46,175.80 606.03,175.74 606.60,176.14 607.17,175.71 607.74,176.49 608.31,176.59 608.88,177.17 609.46,178.24 610.03,178.39 610.60,177.18 611.17,178.18 611.74,178.10 612.31,178.64 612.88,178.22 613.45,178.58 614.02,178.17 614.59,178.08 615.17,179.55 615.74,180.05 616.31,179.70 616.88,179.68 617.45,179.71 618.02,179.30 618.59,178.40 619.16,180.49 619.73,180.27 620.31,179.83 620.88,179.65 621.45,181.58 622.02,179.29 622.59,182.26 623.16,181.52 623.73,183.03 624.30,180.74"/>
<polyline fill="none" stroke="#e000e0" stroke-width="2.1" stroke-linejoin="round" points="396.39,188.20 396.96,187.61 397.53,188.04 398.10,187.55 398.67,186.90 399.25,188.37 399.82,186.53 400.39,186.61 400.96,187.39 401.53,186.24 402.10,186.16 402.67,186.69 403.24,185.86 403.81,184.90 404.38,185.74 404.96,185.46 405.53,187.01 406.10,184.30 406.67,185.97 407.24,184.20 407.81,184.40 408.38,184.23 408.95,184.58 409.52,184.91 410.10,185.51 410.67,183.17 411.24,184.74 411.81,184.23 412.38,183.86 412.95,182.24 413.52,183.53 414.09,182.41 414.66,182.61 415.23,181.84 415.81,182.46 416.38,182.65 416.95,182.45 417.52,181.02 418.09,181.88 418.66,182.07 419.23,179.69 419.80,181.63 420.37,178.87 420.95,180.33 421.52,180.14 422.09,180.71 422.66,179.39 423.23,178.48 423.80,177.96 424.37,177.31 424.94,178.90 425.51,177.76 426.08,177.09 426.66,177.98 427.23,176.58 427.80,176.64 428.37,176.38 428.94,178.05 429.51,177.64 430.08,175.94 430.65,174.44 431.22,175.86 431.80,175.44 432.37,175.46 432.94,175.42 433.51,174.38 434.08,175.27 434.65,174.95 435.22,174.16 435.79,173.37 436.36,173.06 436.93,173.89 437.51,172.04 438.08,172.65 438.65,171.89 439.22,171.08 439.79,172.64 440.36,171.84 440.93,171.66 441.50,172.14 442.07,169.74 442.65,170.76 443.22,170.81 443.79,171.04 444.36,169.06 444.93,170.42 445.50,169.71 446.07,170.48 446.64,170.03 447.21,169.25 447.78,170.44 448.36,168.26 448.93,167.63 449.50,167.46 450.07,166.67 450.64,167.25 451.21,165.34 451.78,166.71 452.35,166.93 452.92,167.20 453.49,165.75 454.07,167.07 454.64,165.00 455.21,165.22 455.78,163.41 456.35,164.18 456.92,163.91 457.49,165.69 458.06,164.60 458.63,162.91 459.21,164.11 459.78,163.81 460.35,162.94 460.92,162.91 461.49,162.37 462.06,161.91 462.63,160.57 463.20,161.79 463.77,162.74 464.34,162.61 464.92,160.84 465.49,160.16 466.06,160.36 466.63,161.06 467.20,160.31 467.77,159.21 468.34,159.76 468.91,158.97 469.48,159.32 470.06,158.21 470.63,156.98 471.20,158.02 471.77,158.33 472.34,156.38 472.91,156.94 473.48,157.48 474.05,156.05 474.62,155.47 475.19,157.49 475.77,156.09 476.34,155.92 476.91,153.83 477.48,155.74 478.05,152.50 478.62,153.13 479.19,153.87 479.76,154.02 480.33,151.67 480.91,151.53 481.48,151.92 482.05,149.69 482.62,151.57 483.19,151.13 483.76,149.86 484.33,150.33 484.90,150.14 485.47,149.31 486.04,149.07 486.62,149.49 487.19,147.28 487.76,147.35 488.33,146.24 488.90,147.06 489.47,145.24 490.04,145.43 490.61,144.50 490.93,144.07 491.25,145.11 491.56,143.12 491.88,143.99 492.20,143.02 492.52,142.98 492.83,141.21 493.15,141.67 493.47,141.02 493.79,139.32 494.10,139.57 494.42,138.69 494.74,138.23 495.05,138.83 495.37,136.49 495.69,135.05 496.01,134.37 496.32,134.82 496.64,133.93 496.96,133.71 497.28,133.32 497.59,133.39 497.91,131.07 498.23,129.89 498.54,127.75 498.86,126.69 499.18,124.85 499.50,122.00 499.81,117.25 500.13,115.20 500.45,111.84 500.77,107.49 501.08,102.34 501.40,98.47 501.72,94.38 502.03,89.98 502.35,85.54 502.67,81.83 502.99,78.83 503.30,74.89 503.62,72.20 503.94,68.57 504.25,65.24 504.57,61.52 504.89,58.19 505.21,55.07 505.52,51.57 505.84,48.89 506.16,45.41 506.48,42.51 506.79,39.87 507.11,37.28 507.43,34.79 507.74,32.29 508.06,30.16 508.38,28.21 508.70,26.36 509.01,24.28 509.33,22.72 509.65,20.79 509.97,19.88 510.28,19.33 510.60,19.03 510.92,19.41 511.23,19.85 511.55,20.90 511.87,22.37 512.19,24.64 512.50,26.29 512.82,28.20 513.14,30.38 513.46,32.20 513.77,34.68 514.09,37.14 514.41,39.99 514.72,42.54 515.04,45.37 515.36,48.69 515.68,51.71 515.99,54.93 516.31,58.41 516.63,61.59 516.94,65.12 517.26,68.60 517.58,71.98 517.90,75.08 518.21,78.85 518.53,82.71 518.85,85.66 519.17,90.45 519.48,93.44 519.80,99.10 520.12,102.79 520.43,107.20 520.75,111.01 521.07,114.51 521.39,117.58 521.70,121.14 522.02,124.81 522.34,126.99 522.66,127.97 522.97,129.31 523.29,130.38 523.61,130.82 523.92,134.39 524.24,134.28 524.56,134.60 524.88,134.79 525.19,135.00 525.51,137.66 525.83,137.79 526.15,136.88 526.46,139.11 526.78,137.85 527.10,139.89 527.41,139.02 527.73,140.00 528.05,141.29 528.37,141.73 528.68,142.71 529.00,141.58 529.32,144.12 529.63,144.35 529.95,143.60 530.27,144.41 530.59,143.71 530.90,144.61 531.22,143.94 531.79,145.74 532.36,146.39 532.93,147.91 533.51,148.08 534.08,148.45 534.65,147.90 535.22,148.47 535.79,148.80 536.36,149.70 536.93,148.24 537.50,150.96 538.07,149.32 538.64,150.61 539.22,151.44 539.79,151.34 540.36,153.59 540.93,152.44 541.50,154.25 542.07,154.28 542.64,153.20 543.21,154.34 543.78,155.47 544.36,154.42 544.93,155.13 545.50,154.92 546.07,155.79 546.64,155.77 547.21,156.49 547.78,157.61 548.35,158.27 548.92,157.50 549.49,157.87 550.07,158.75 550.64,158.06 551.21,157.69 551.78,159.85 552.35,158.38 552.92,160.27 553.49,158.92 554.06,161.61 554.63,159.40 555.21,161.31 555.78,162.14 556.35,160.28 556.92,162.66 557.49,160.93 558.06,160.38 558.63,162.78 559.20,163.02 559.77,162.49 560.34,160.74 560.92,163.12 561.49,163.15 562.06,163.34 562.63,163.66 563.20,162.61 563.77,163.91 564.34,166.20 564.91,166.22 565.48,164.82 566.06,164.75 566.63,165.95 567.20,166.77 567.77,166.72 568.34,165.32 568.91,166.71 569.48,166.94 570.05,168.30 570.62,168.33 571.19,168.00 571.77,168.84 572.34,167.70 572.91,169.61 573.48,168.17 574.05,169.13 574.62,169.83 575.19,168.50 575.76,168.94 576.33,168.28 576.91,170.20 577.48,170.27 578.05,170.30 578.62,171.28 579.19,169.29 579.76,171.37 580.33,171.73 580.90,171.66 581.47,172.81 582.04,173.87 582.62,172.20 583.19,172.01 583.76,172.53 584.33,173.37 584.90,174.03 585.47,173.01 586.04,174.86 586.61,173.34 587.18,175.18 587.76,175.07 588.33,175.33 588.90,177.03 589.47,175.18 590.04,175.50 590.61,176.29 591.18,176.86 591.75,175.19 592.32,176.82 592.89,176.18 593.47,177.60 594.04,178.48 594.61,177.57 595.18,177.67 595.75,178.16 596.32,175.68 596.89,179.13 597.46,179.19 598.03,179.08 598.61,178.83 599.18,178.77 599.75,179.48 600.32,180.92 600.89,180.01 601.46,181.49 602.03,178.34 602.60,180.39 603.17,181.25 603.74,181.22 604.32,180.02 604.89,181.10 605.46,182.97 606.03,180.99 606.60,181.46 607.17,181.58 607.74,182.26 608.31,183.50 608.88,183.67 609.46,181.61 610.03,184.82 610.60,183.25 611.17,183.45 611.74,185.60 612.31,184.28 612.88,183.48 613.45,184.19 614.02,184.30 614.59,184.25 615.17,185.02 615.74,186.25 616.31,185.98 616.88,184.66 617.45,188.45 618.02,185.36 618.59,186.49 619.16,186.60 619.73,187.40 620.31,186.63 620.88,187.48 621.45,189.07 622.02,187.51 622.59,186.65 623.16,188.04 623.73,187.22 624.30,187.76"/>
<polyline fill="none" stroke="#ff00b0" stroke-width="2.1" stroke-linejoin="round" points="396.39,196.19 396.96,196.14 397.53,195.35 398.10,196.25 398.67,195.04 399.25,193.77 399.82,195.68 400.39,194.28 400.96,195.60 401.53,193.58 402.10,194.56 402.67,194.10 403.24,190.97 403.81,191.92 404.38,192.07 404.96,194.30 405.53,190.88 406.10,193.38 406.67,193.33 407.24,192.52 407.81,192.47 408.38,191.10 408.95,191.34 409.52,191.33 410.10,191.28 410.67,191.32 411.24,190.20 411.81,189.47 412.38,189.36 412.95,190.06 413.52,187.80 414.09,187.95 414.66,188.51 415.23,188.12 415.81,188.14 416.38,185.56 416.95,187.55 417.52,187.38 418.09,188.11 418.66,185.18 419.23,186.53 419.80,187.02 420.37,186.77 420.95,187.18 421.52,186.77 422.09,184.46 422.66,185.82 423.23,184.60 423.80,183.87 424.37,185.87 424.94,183.49 425.51,183.00 426.08,183.16 426.66,182.45 427.23,183.98 427.80,183.10 428.37,183.81 428.94,182.57 429.51,181.30 430.08,182.64 430.65,180.71 431.22,180.62 431.80,180.63 432.37,180.56 432.94,181.40 433.51,179.38 434.08,180.03 434.65,179.39 435.22,177.92 435.79,177.81 436.36,178.38 436.93,178.72 437.51,178.36 438.08,178.25 438.65,177.56 439.22,176.80 439.79,177.39 440.36,175.73 440.93,175.12 441.50,175.78 442.07,174.40 442.65,174.98 443.22,174.44 443.79,174.32 444.36,174.51 444.93,173.47 445.50,173.54 446.07,171.99 446.64,173.50 447.21,172.21 447.78,173.17 448.36,169.74 448.93,171.42 449.50,172.15 450.07,169.25 450.64,171.00 451.21,171.16 451.78,170.88 452.35,169.05 452.92,170.45 453.49,170.09 454.07,168.72 454.64,170.11 455.21,169.06 455.78,168.85 456.35,168.11 456.92,168.81 457.49,168.09 458.06,168.82 458.63,167.87 459.21,166.54 459.78,166.64 460.35,167.47 460.92,165.93 461.49,166.37 462.06,166.22 462.63,165.24 463.20,162.85 463.77,164.95 464.34,164.73 464.92,164.36 465.49,163.18 466.06,164.79 466.63,163.17 467.20,162.38 467.77,161.97 468.34,162.70 468.91,160.97 469.48,160.73 470.06,163.33 470.63,162.32 471.20,161.73 471.77,161.69 472.34,160.59 472.91,158.01 473.48,160.46 474.05,160.14 474.62,159.05 475.19,156.28 475.77,159.04 476.34,158.78 476.91,156.58 477.48,156.79 478.05,157.04 478.62,155.80 479.19,156.55 479.76,155.15 480.33,155.34 480.91,154.34 481.48,152.41 482.05,152.48 482.62,156.14 483.19,152.90 483.76,153.50 484.33,152.90 484.90,153.03 485.47,151.44 486.04,149.85 486.62,149.97 487.19,147.58 487.76,148.75 488.33,149.29 488.90,145.72 489.47,147.44 490.04,147.44 490.61,147.28 490.93,144.69 491.25,144.55 491.56,142.92 491.88,143.32 492.20,144.39 492.52,145.42 492.83,141.78 493.15,143.76 493.47,142.32 493.79,140.90 494.10,143.01 494.42,137.85 494.74,139.71 495.05,139.43 495.37,140.72 495.69,139.80 496.01,139.64 496.32,136.90 496.64,137.02 496.96,136.63 497.28,134.95 497.59,133.88 497.91,132.35 498.23,131.13 498.54,129.26 498.86,129.58 499.18,126.00 499.50,122.33 499.81,120.50 500.13,116.97 500.45,113.45 500.77,110.19 501.08,105.03 501.40,100.56 501.72,95.92 502.03,91.84 502.35,87.61 502.67,84.08 502.99,81.39 503.30,77.15 503.62,73.46 503.94,70.70 504.25,66.99 504.57,63.38 504.89,59.79 505.21,56.41 505.52,53.07 505.84,49.94 506.16,46.74 506.48,43.75 506.79,40.58 507.11,37.90 507.43,35.16 507.74,32.95 508.06,30.68 508.38,28.46 508.70,26.75 509.01,25.19 509.33,22.93 509.65,20.66 509.97,19.87 510.28,19.51 510.60,18.99 510.92,19.47 511.23,20.06 511.55,20.88 511.87,22.59 512.19,24.91 512.50,26.65 512.82,28.55 513.14,30.47 513.46,32.61 513.77,35.09 514.09,37.85 514.41,40.50 514.72,43.15 515.04,46.76 515.36,49.56 515.68,52.87 515.99,56.37 516.31,59.33 516.63,63.48 516.94,66.66 517.26,70.42 517.58,73.55 517.90,77.13 518.21,80.50 518.53,84.02 518.85,87.13 519.17,91.31 519.48,96.19 519.80,101.26 520.12,104.83 520.43,109.60 520.75,113.45 521.07,117.23 521.39,120.89 521.70,122.66 522.02,126.42 522.34,128.28 522.66,129.85 522.97,130.84 523.29,131.99 523.61,132.51 523.92,133.37 524.24,137.76 524.56,137.73 524.88,136.77 525.19,138.15 525.51,137.08 525.83,135.90 526.15,137.42 526.46,139.92 526.78,141.74 527.10,140.82 527.41,140.40 527.73,141.67 528.05,141.43 528.37,141.53 528.68,143.16 529.00,143.47 529.32,143.52 529.63,143.89 529.95,144.27 530.27,145.83 530.59,147.35 530.90,146.14 531.22,148.90 531.79,145.72 532.36,148.17 532.93,147.32 533.51,148.84 534.08,149.61 534.65,150.56 535.22,151.60 535.79,150.40 536.36,150.18 536.93,151.65 537.50,152.55 538.07,151.99 538.64,153.97 539.22,155.15 539.79,152.50 540.36,154.66 540.93,155.71 541.50,153.23 542.07,155.73 542.64,155.70 543.21,154.92 543.78,158.01 544.36,157.31 544.93,157.01 545.50,158.30 546.07,158.87 546.64,159.37 547.21,159.55 547.78,159.74 548.35,158.53 548.92,159.63 549.49,160.52 550.07,158.01 550.64,163.17 551.21,161.04 551.78,160.70 552.35,160.28 552.92,162.63 553.49,162.74 554.06,162.45 554.63,162.93 555.21,162.77 555.78,163.22 556.35,164.16 556.92,163.93 557.49,165.53 558.06,165.01 558.63,165.58 559.20,166.14 559.77,167.28 560.34,166.91 560.92,166.83 561.49,166.73 562.06,166.38 562.63,167.12 563.20,168.41 563.77,168.25 564.34,167.92 564.91,167.27 565.48,167.35 566.06,169.46 566.63,170.43 567.20,170.06 567.77,168.62 568.34,170.04 568.91,170.75 569.48,169.91 570.05,171.44 570.62,171.18 571.19,170.84 571.77,170.72 572.34,173.03 572.91,172.87 573.48,171.94 574.05,172.10 574.62,174.27 575.19,174.28 575.76,173.69 576.33,175.85 576.91,174.30 577.48,173.85 578.05,176.28 578.62,175.33 579.19,176.16 579.76,176.18 580.33,175.47 580.90,175.56 581.47,176.81 582.04,178.65 582.62,176.55 583.19,179.15 583.76,178.30 584.33,177.26 584.90,178.89 585.47,179.46 586.04,178.29 586.61,177.35 587.18,180.07 587.76,178.91 588.33,180.71 588.90,178.67 589.47,180.68 590.04,180.30 590.61,179.92 591.18,181.42 591.75,182.10 592.32,181.66 592.89,181.32 593.47,182.97 594.04,181.31 594.61,183.84 595.18,184.07 595.75,185.51 596.32,185.00 596.89,184.76 597.46,184.94 598.03,184.99 598.61,183.93 599.18,186.94 599.75,186.29 600.32,185.77 600.89,185.20 601.46,188.05 602.03,187.38 602.60,185.96 603.17,188.05 603.74,189.51 604.32,187.89 604.89,188.57 605.46,188.02 606.03,188.07 606.60,189.99 607.17,192.21 607.74,189.56 608.31,189.57 608.88,190.72 609.46,189.88 610.03,191.14 610.60,191.48 611.17,189.91 611.74,190.09 612.31,191.30 612.88,192.42 613.45,192.11 614.02,193.28 614.59,190.94 615.17,193.00 615.74,192.13 616.31,193.06 616.88,193.49 617.45,192.44 618.02,193.39 618.59,192.68 619.16,194.29 619.73,193.41 620.31,193.96 620.88,194.87 621.45,194.21 622.02,196.18 622.59,194.63 623.16,196.28 623.73,195.92 624.30,194.82"/>
<polyline fill="none" stroke="#ff0070" stroke-width="2.1" stroke-linejoin="round" points="396.39,203.14 396.96,202.24 397.53,202.53 398.10,202.39 398.67,204.43 399.25,201.76 399.82,203.68 400.39,202.22 400.96,200.07 401.53,198.73 402.10,201.73 402.67,198.58 403.24,201.27 403.81,201.35 404.38,200.40 404.96,199.49 405.53,199.18 406.10,199.47 406.67,198.59 407.24,198.07 407.81,197.98 408.38,199.38 408.95,197.16 409.52,197.97 410.10,196.03 410.67,196.22 411.24,195.22 411.81,196.21 412.38,196.88 412.95,196.18 413.52,195.02 414.09,195.93 414.66,194.59 415.23,195.08 415.81,194.67 416.38,194.66 416.95,191.08 417.52,192.05 418.09,194.00 418.66,192.74 419.23,194.98 419.80,191.98 420.37,191.33 420.95,193.23 421.52,191.90 422.09,193.04 422.66,191.23 423.23,190.14 423.80,190.83 424.37,188.87 424.94,188.93 425.51,188.49 426.08,188.54 426.66,189.31 427.23,187.62 427.80,188.18 428.37,186.97 428.94,188.15 429.51,183.89 430.08,186.34 430.65,186.43 431.22,184.76 431.80,186.71 432.37,185.53 432.94,186.37 433.51,185.71 434.08,185.05 434.65,183.88 435.22,182.55 435.79,183.18 436.36,182.61 436.93,183.06 437.51,181.98 438.08,185.48 438.65,180.14 439.22,182.83 439.79,180.75 440.36,180.69 440.93,181.64 441.50,180.28 442.07,178.61 442.65,180.01 443.22,179.01 443.79,176.64 444.36,178.74 444.93,177.05 445.50,177.05 446.07,178.04 446.64,177.51 447.21,176.54 447.78,178.88 448.36,176.66 448.93,175.22 449.50,175.82 450.07,175.11 450.64,172.54 451.21,172.90 451.78,172.79 452.35,176.21 452.92,173.47 453.49,173.05 454.07,172.43 454.64,173.79 455.21,172.45 455.78,173.95 456.35,172.65 456.92,173.26 457.49,171.04 458.06,171.26 458.63,170.07 459.21,170.04 459.78,168.04 460.35,168.96 460.92,168.24 461.49,168.25 462.06,169.94 462.63,168.59 463.20,169.30 463.77,168.58 464.34,168.31 464.92,168.07 465.49,165.99 466.06,167.17 466.63,165.62 467.20,165.04 467.77,166.56 468.34,167.25 468.91,163.50 469.48,166.07 470.06,164.73 470.63,162.55 471.20,163.39 471.77,163.12 472.34,162.74 472.91,161.57 473.48,160.18 474.05,161.21 474.62,161.71 475.19,161.23 475.77,160.70 476.34,160.76 476.91,158.09 477.48,158.70 478.05,158.69 478.62,158.97 479.19,157.63 479.76,157.59 480.33,156.73 480.91,158.41 481.48,153.35 482.05,155.24 482.62,157.50 483.19,154.64 483.76,151.96 484.33,153.62 484.90,151.46 485.47,151.80 486.04,152.28 486.62,153.38 487.19,151.50 487.76,151.18 488.33,150.99 488.90,149.52 489.47,147.77 490.04,147.95 490.61,147.75 490.93,146.69 491.25,145.85 491.56,145.76 491.88,144.08 492.20,144.13 492.52,144.66 492.83,143.88 493.15,143.81 493.47,144.77 493.79,143.06 494.10,142.17 494.42,140.40 494.74,139.95 495.05,140.95 495.37,139.02 495.69,139.84 496.01,137.61 496.32,138.27 496.64,137.36 496.96,137.77 497.28,135.46 497.59,134.59 497.91,134.31 498.23,133.01 498.54,132.88 498.86,129.98 499.18,127.78 499.50,125.21 499.81,122.55 500.13,119.04 500.45,115.68 500.77,110.57 501.08,108.17 501.40,103.34 501.72,97.98 502.03,93.12 502.35,89.55 502.67,85.87 502.99,81.41 503.30,78.66 503.62,74.83 503.94,71.88 504.25,68.54 504.57,64.78 504.89,60.68 505.21,57.67 505.52,54.19 505.84,50.65 506.16,47.55 506.48,44.58 506.79,41.29 507.11,38.50 507.43,35.69 507.74,33.41 508.06,30.53 508.38,29.01 508.70,26.71 509.01,25.13 509.33,22.62 509.65,20.74 509.97,19.80 510.28,19.56 510.60,18.74 510.92,19.52 511.23,19.80 511.55,21.09 511.87,22.83 512.19,25.06 512.50,26.84 512.82,29.07 513.14,30.82 513.46,33.22 513.77,36.10 514.09,38.52 514.41,41.46 514.72,44.22 515.04,47.50 515.36,50.34 515.68,54.06 515.99,57.35 516.31,60.68 516.63,64.32 516.94,68.49 517.26,71.88 517.58,74.82 517.90,79.19 518.21,81.91 518.53,85.59 518.85,89.59 519.17,93.15 519.48,97.30 519.80,102.16 520.12,107.54 520.43,111.77 520.75,114.46 521.07,119.59 521.39,122.28 521.70,125.72 522.02,128.16 522.34,130.43 522.66,131.00 522.97,132.31 523.29,133.51 523.61,134.59 523.92,136.55 524.24,135.38 524.56,139.15 524.88,137.44 525.19,138.13 525.51,140.13 525.83,140.43 526.15,140.18 526.46,139.96 526.78,140.59 527.10,140.48 527.41,143.97 527.73,144.43 528.05,145.78 528.37,144.81 528.68,145.12 529.00,146.05 529.32,146.72 529.63,145.86 529.95,146.95 530.27,149.31 530.59,145.56 530.90,146.25 531.22,147.09 531.79,149.57 532.36,150.65 532.93,149.59 533.51,151.24 534.08,151.01 534.65,151.91 535.22,151.51 535.79,152.55 536.36,153.05 536.93,154.75 537.50,156.39 538.07,152.48 538.64,155.45 539.22,155.31 539.79,156.80 540.36,157.34 540.93,157.47 541.50,157.95 542.07,156.49 542.64,156.10 543.21,160.17 543.78,160.09 544.36,158.18 544.93,161.01 545.50,160.75 546.07,157.78 546.64,161.80 547.21,160.16 547.78,162.87 548.35,161.26 548.92,161.58 549.49,161.09 550.07,162.90 550.64,164.60 551.21,163.15 551.78,162.23 552.35,166.91 552.92,166.95 553.49,166.05 554.06,165.08 554.63,164.69 555.21,164.58 555.78,167.29 556.35,168.42 556.92,166.21 557.49,167.68 558.06,167.71 558.63,168.06 559.20,169.21 559.77,171.24 560.34,168.62 560.92,170.54 561.49,171.12 562.06,169.95 562.63,170.41 563.20,169.44 563.77,172.37 564.34,170.94 564.91,171.12 565.48,172.21 566.06,171.52 566.63,171.64 567.20,172.75 567.77,174.99 568.34,173.48 568.91,174.58 569.48,172.74 570.05,172.54 570.62,176.92 571.19,174.85 571.77,173.93 572.34,175.80 572.91,176.90 573.48,174.70 574.05,175.94 574.62,177.50 575.19,176.56 575.76,178.75 576.33,179.27 576.91,179.04 577.48,178.45 578.05,179.21 578.62,178.92 579.19,179.82 579.76,180.66 580.33,180.35 580.90,182.04 581.47,184.09 582.04,181.00 582.62,182.27 583.19,183.10 583.76,183.21 584.33,182.57 584.90,182.62 585.47,184.54 586.04,184.44 586.61,184.62 587.18,183.52 587.76,185.39 588.33,185.88 588.90,185.13 589.47,186.35 590.04,188.31 590.61,184.25 591.18,187.25 591.75,185.65 592.32,185.75 592.89,187.29 593.47,188.46 594.04,188.24 594.61,187.24 595.18,187.26 595.75,188.53 596.32,189.46 596.89,188.86 597.46,188.45 598.03,192.29 598.61,189.80 599.18,190.85 599.75,190.74 600.32,191.01 600.89,192.00 601.46,191.95 602.03,193.25 602.60,191.61 603.17,191.59 603.74,195.61 604.32,193.72 604.89,194.94 605.46,195.68 606.03,195.30 606.60,195.04 607.17,193.61 607.74,193.85 608.31,196.94 608.88,196.90 609.46,197.07 610.03,194.94 610.60,194.71 611.17,196.16 611.74,196.31 612.31,198.04 612.88,197.03 613.45,200.13 614.02,198.01 614.59,198.34 615.17,200.16 615.74,199.84 616.31,198.77 616.88,200.90 617.45,202.35 618.02,199.19 618.59,200.50 619.16,199.85 619.73,199.16 620.31,202.20 620.88,202.52 621.45,203.06 622.02,202.71 622.59,200.29 623.16,202.68 623.73,202.22 624.30,201.90"/>
<polyline fill="none" stroke="#ff0028" stroke-width="2.1" stroke-linejoin="round" points="396.39,221.68 396.96,223.44 397.53,221.69 398.10,223.91 398.67,221.64 399.25,218.32 399.82,221.18 400.39,221.12 400.96,219.18 401.53,217.20 402.10,220.27 402.67,216.10 403.24,217.08 403.81,214.41 404.38,214.69 404.96,213.67 405.53,216.51 406.10,216.12 406.67,213.73 407.24,212.09 407.81,213.15 408.38,213.18 408.95,210.40 409.52,210.34 410.10,211.11 410.67,211.58 411.24,210.32 411.81,210.28 412.38,207.74 412.95,205.76 413.52,208.62 414.09,206.65 414.66,207.10 415.23,206.30 415.81,206.83 416.38,204.84 416.95,207.00 417.52,204.81 418.09,204.91 418.66,204.54 419.23,204.54 419.80,203.29 420.37,200.21 420.95,201.07 421.52,203.57 422.09,201.41 422.66,201.03 423.23,200.44 423.80,198.62 424.37,198.10 424.94,197.65 425.51,199.34 426.08,197.91 426.66,199.14 427.23,197.12 427.80,198.33 428.37,196.13 428.94,193.69 429.51,196.74 430.08,194.59 430.65,195.15 431.22,193.51 431.80,192.40 432.37,192.55 432.94,190.54 433.51,190.00 434.08,189.92 434.65,189.91 435.22,188.46 435.79,189.53 436.36,189.58 436.93,191.23 437.51,190.57 438.08,187.86 438.65,188.55 439.22,186.80 439.79,187.11 440.36,186.18 440.93,185.16 441.50,185.49 442.07,183.20 442.65,185.12 443.22,183.84 443.79,182.49 444.36,182.97 444.93,183.69 445.50,181.82 446.07,182.83 446.64,182.57 447.21,183.39 447.78,179.82 448.36,180.63 448.93,181.02 449.50,181.85 450.07,179.99 450.64,180.23 451.21,177.18 451.78,177.89 452.35,180.26 452.92,177.54 453.49,180.15 454.07,176.30 454.64,176.49 455.21,174.54 455.78,176.90 456.35,176.09 456.92,177.87 457.49,175.27 458.06,174.41 458.63,172.65 459.21,173.91 459.78,174.80 460.35,174.19 460.92,174.42 461.49,173.62 462.06,172.16 462.63,172.58 463.20,171.69 463.77,169.50 464.34,172.82 464.92,170.82 465.49,168.72 466.06,170.08 466.63,169.58 467.20,170.06 467.77,170.21 468.34,164.36 468.91,168.34 469.48,169.12 470.06,165.70 470.63,164.19 471.20,166.37 471.77,166.03 472.34,165.63 472.91,163.43 473.48,163.79 474.05,164.17 474.62,164.41 475.19,165.74 475.77,162.99 476.34,161.46 476.91,158.87 477.48,162.60 478.05,160.67 478.62,160.23 479.19,158.69 479.76,160.32 480.33,156.75 480.91,158.59 481.48,158.13 482.05,157.87 482.62,158.61 483.19,156.41 483.76,156.16 484.33,156.59 484.90,153.15 485.47,154.17 486.04,154.08 486.62,154.62 487.19,151.92 487.76,153.30 488.33,152.20 488.90,149.30 489.47,148.66 490.04,148.06 490.61,149.28 490.93,148.95 491.25,149.16 491.56,148.84 491.88,146.71 492.20,148.23 492.52,147.44 492.83,146.52 493.15,146.03 493.47,143.35 493.79,144.84 494.10,142.59 494.42,141.85 494.74,142.32 495.05,142.35 495.37,141.53 495.69,140.61 496.01,139.19 496.32,140.02 496.64,138.22 496.96,136.69 497.28,137.75 497.59,138.57 497.91,135.40 498.23,134.02 498.54,134.83 498.86,133.63 499.18,130.20 499.50,127.60 499.81,124.75 500.13,123.16 500.45,117.78 500.77,114.23 501.08,109.53 501.40,103.80 501.72,99.65 502.03,95.20 502.35,91.81 502.67,87.86 502.99,84.83 503.30,80.54 503.62,77.23 503.94,73.64 504.25,70.03 504.57,66.72 504.89,62.50 505.21,59.14 505.52,55.59 505.84,51.79 506.16,48.67 506.48,45.23 506.79,42.21 507.11,39.27 507.43,36.41 507.74,33.65 508.06,31.56 508.38,29.05 508.70,27.24 509.01,25.50 509.33,23.17 509.65,21.15 509.97,20.17 510.28,19.63 510.60,19.32 510.92,19.17 511.23,20.28 511.55,20.97 511.87,22.73 512.19,25.07 512.50,26.86 512.82,29.09 513.14,31.00 513.46,33.55 513.77,36.46 514.09,39.27 514.41,42.05 514.72,45.25 515.04,48.52 515.36,51.91 515.68,55.35 515.99,58.83 516.31,62.61 516.63,65.88 516.94,69.88 517.26,73.65 517.58,77.02 517.90,80.45 518.21,84.01 518.53,87.90 518.85,92.16 519.17,95.68 519.48,100.06 519.80,104.94 520.12,109.15 520.43,112.52 520.75,117.86 521.07,121.07 521.39,124.31 521.70,128.34 522.02,130.63 522.34,132.12 522.66,132.27 522.97,133.80 523.29,136.28 523.61,137.07 523.92,138.64 524.24,139.20 524.56,139.10 524.88,138.84 525.19,139.72 525.51,141.54 525.83,140.93 526.15,143.90 526.46,141.95 526.78,141.99 527.10,144.55 527.41,143.19 527.73,147.95 528.05,145.29 528.37,147.00 528.68,147.30 529.00,147.11 529.32,146.46 529.63,146.84 529.95,150.68 530.27,151.34 530.59,153.20 530.90,149.18 531.22,152.09 531.79,152.12 532.36,153.90 532.93,152.92 533.51,155.11 534.08,155.98 534.65,156.26 535.22,157.91 535.79,156.52 536.36,159.22 536.93,157.04 537.50,160.52 538.07,155.65 538.64,159.61 539.22,159.16 539.79,160.69 540.36,162.51 540.93,162.68 541.50,162.46 542.07,164.98 542.64,161.61 543.21,162.96 543.78,166.34 544.36,165.40 544.93,162.96 545.50,166.43 546.07,165.06 546.64,168.83 547.21,168.91 547.78,167.31 548.35,170.06 548.92,167.92 549.49,170.55 550.07,170.59 550.64,170.19 551.21,169.06 551.78,170.92 552.35,168.90 552.92,171.47 553.49,170.33 554.06,174.54 554.63,172.29 555.21,170.91 555.78,175.05 556.35,175.20 556.92,174.54 557.49,178.18 558.06,176.93 558.63,176.46 559.20,175.99 559.77,173.54 560.34,178.16 560.92,179.14 561.49,177.62 562.06,177.00 562.63,179.07 563.20,177.44 563.77,179.89 564.34,181.20 564.91,182.49 565.48,181.33 566.06,181.62 566.63,182.67 567.20,183.84 567.77,182.10 568.34,181.35 568.91,182.25 569.48,182.05 570.05,182.87 570.62,184.18 571.19,185.12 571.77,185.26 572.34,185.52 572.91,185.37 573.48,186.70 574.05,187.64 574.62,187.86 575.19,189.14 575.76,187.32 576.33,187.74 576.91,190.52 577.48,189.06 578.05,189.71 578.62,189.17 579.19,191.17 579.76,189.88 580.33,189.53 580.90,191.09 581.47,191.03 582.04,193.00 582.62,191.91 583.19,192.93 583.76,192.92 584.33,194.02 584.90,193.23 585.47,195.78 586.04,193.08 586.61,194.78 587.18,194.79 587.76,196.88 588.33,196.55 588.90,197.52 589.47,196.93 590.04,196.88 590.61,196.81 591.18,198.20 591.75,198.37 592.32,199.80 592.89,200.32 593.47,201.51 594.04,200.60 594.61,200.24 595.18,200.28 595.75,202.09 596.32,202.89 596.89,205.27 597.46,203.53 598.03,205.89 598.61,206.47 599.18,203.30 599.75,206.51 600.32,206.85 600.89,207.54 601.46,206.30 602.03,207.92 602.60,206.58 603.17,207.52 603.74,208.06 604.32,210.65 604.89,208.63 605.46,210.49 606.03,209.83 606.60,209.30 607.17,210.90 607.74,211.84 608.31,210.58 608.88,212.66 609.46,211.43 610.03,211.65 610.60,213.43 611.17,213.29 611.74,212.80 612.31,212.42 612.88,214.88 613.45,215.57 614.02,215.12 614.59,216.33 615.17,214.64 615.74,217.42 616.31,217.86 616.88,218.11 617.45,217.42 618.02,218.69 618.59,219.16 619.16,220.72 619.73,220.16 620.31,220.53 620.88,219.74 621.45,222.09 622.02,222.87 622.59,221.23 623.16,223.02 623.73,223.01 624.30,222.97"/>
<rect x="383.3" y="1.7" width="253.8" height="234.5" fill="none" stroke="#1a1a1a" stroke-width="1.3"/>
<line x1="371.30" y1="22.40" x2="383.30" y2="22.40" stroke="#1a1a1a" stroke-width="1.3" />
<line x1="377.30" y1="43.77" x2="383.30" y2="43.77" stroke="#1a1a1a" stroke-width="1.3" />
<line x1="371.30" y1="65.15" x2="383.30" y2="65.15" stroke="#1a1a1a" stroke-width="1.3" />
<line x1="377.30" y1="86.53" x2="383.30" y2="86.53" stroke="#1a1a1a" stroke-width="1.3" />
<line x1="371.30" y1="107.90" x2="383.30" y2="107.90" stroke="#1a1a1a" stroke-width="1.3" />
<line x1="377.30" y1="129.28" x2="383.30" y2="129.28" stroke="#1a1a1a" stroke-width="1.3" />
<line x1="371.30" y1="150.65" x2="383.30" y2="150.65" stroke="#1a1a1a" stroke-width="1.3" />
<line x1="377.30" y1="172.03" x2="383.30" y2="172.03" stroke="#1a1a1a" stroke-width="1.3" />
<line x1="371.30" y1="193.40" x2="383.30" y2="193.40" stroke="#1a1a1a" stroke-width="1.3" />
<line x1="377.30" y1="214.78" x2="383.30" y2="214.78" stroke="#1a1a1a" stroke-width="1.3" />
<line x1="371.30" y1="236.15" x2="383.30" y2="236.15" stroke="#1a1a1a" stroke-width="1.3" />
<line x1="626.10" y1="19.50" x2="637.10" y2="19.50" stroke="#1a1a1a" stroke-width="1.3" />
<line x1="631.60" y1="37.56" x2="637.10" y2="37.56" stroke="#1a1a1a" stroke-width="1.3" />
<line x1="626.10" y1="55.62" x2="637.10" y2="55.62" stroke="#1a1a1a" stroke-width="1.3" />
<line x1="631.60" y1="73.68" x2="637.10" y2="73.68" stroke="#1a1a1a" stroke-width="1.3" />
<line x1="626.10" y1="91.74" x2="637.10" y2="91.74" stroke="#1a1a1a" stroke-width="1.3" />
<line x1="631.60" y1="109.80" x2="637.10" y2="109.80" stroke="#1a1a1a" stroke-width="1.3" />
<line x1="626.10" y1="127.86" x2="637.10" y2="127.86" stroke="#1a1a1a" stroke-width="1.3" />
<line x1="631.60" y1="145.92" x2="637.10" y2="145.92" stroke="#1a1a1a" stroke-width="1.3" />
<line x1="626.10" y1="163.98" x2="637.10" y2="163.98" stroke="#1a1a1a" stroke-width="1.3" />
<line x1="631.60" y1="182.04" x2="637.10" y2="182.04" stroke="#1a1a1a" stroke-width="1.3" />
<line x1="626.10" y1="200.10" x2="637.10" y2="200.10" stroke="#1a1a1a" stroke-width="1.3" />
<line x1="631.60" y1="218.16" x2="637.10" y2="218.16" stroke="#1a1a1a" stroke-width="1.3" />
<line x1="383.30" y1="236.20" x2="383.30" y2="247.20" stroke="#1a1a1a" stroke-width="1.3" />
<line x1="395.99" y1="236.20" x2="395.99" y2="242.20" stroke="#1a1a1a" stroke-width="1.3" />
<line x1="395.99" y1="1.70" x2="395.99" y2="7.70" stroke="#1a1a1a" stroke-width="1.3" />
<line x1="408.68" y1="236.20" x2="408.68" y2="247.20" stroke="#1a1a1a" stroke-width="1.3" />
<line x1="408.68" y1="1.70" x2="408.68" y2="12.70" stroke="#1a1a1a" stroke-width="1.3" />
<line x1="421.37" y1="236.20" x2="421.37" y2="242.20" stroke="#1a1a1a" stroke-width="1.3" />
<line x1="421.37" y1="1.70" x2="421.37" y2="7.70" stroke="#1a1a1a" stroke-width="1.3" />
<line x1="434.06" y1="236.20" x2="434.06" y2="247.20" stroke="#1a1a1a" stroke-width="1.3" />
<line x1="434.06" y1="1.70" x2="434.06" y2="12.70" stroke="#1a1a1a" stroke-width="1.3" />
<line x1="446.75" y1="236.20" x2="446.75" y2="242.20" stroke="#1a1a1a" stroke-width="1.3" />
<line x1="446.75" y1="1.70" x2="446.75" y2="7.70" stroke="#1a1a1a" stroke-width="1.3" />
<line x1="459.44" y1="236.20" x2="459.44" y2="247.20" stroke="#1a1a1a" stroke-width="1.3" />
<line x1="459.44" y1="1.70" x2="459.44" y2="12.70" stroke="#1a1a1a" stroke-width="1.3" />
<line x1="472.13" y1="236.20" x2="472.13" y2="242.20" stroke="#1a1a1a" stroke-width="1.3" />
<line x1="472.13" y1="1.70" x2="472.13" y2="7.70" stroke="#1a1a1a" stroke-width="1.3" />
<line x1="484.82" y1="236.20" x2="484.82" y2="247.20" stroke="#1a1a1a" stroke-width="1.3" />
<line x1="484.82" y1="1.70" x2="484.82" y2="12.70" stroke="#1a1a1a" stroke-width="1.3" />
<line x1="497.51" y1="236.20" x2="497.51" y2="242.20" stroke="#1a1a1a" stroke-width="1.3" />
<line x1="497.51" y1="1.70" x2="497.51" y2="7.70" stroke="#1a1a1a" stroke-width="1.3" />
<line x1="510.20" y1="236.20" x2="510.20" y2="247.20" stroke="#1a1a1a" stroke-width="1.3" />
<line x1="510.20" y1="1.70" x2="510.20" y2="12.70" stroke="#1a1a1a" stroke-width="1.3" />
<line x1="522.89" y1="236.20" x2="522.89" y2="242.20" stroke="#1a1a1a" stroke-width="1.3" />
<line x1="522.89" y1="1.70" x2="522.89" y2="7.70" stroke="#1a1a1a" stroke-width="1.3" />
<line x1="535.58" y1="236.20" x2="535.58" y2="247.20" stroke="#1a1a1a" stroke-width="1.3" />
<line x1="535.58" y1="1.70" x2="535.58" y2="12.70" stroke="#1a1a1a" stroke-width="1.3" />
<line x1="548.27" y1="236.20" x2="548.27" y2="242.20" stroke="#1a1a1a" stroke-width="1.3" />
<line x1="548.27" y1="1.70" x2="548.27" y2="7.70" stroke="#1a1a1a" stroke-width="1.3" />
<line x1="560.96" y1="236.20" x2="560.96" y2="247.20" stroke="#1a1a1a" stroke-width="1.3" />
<line x1="560.96" y1="1.70" x2="560.96" y2="12.70" stroke="#1a1a1a" stroke-width="1.3" />
<line x1="573.65" y1="236.20" x2="573.65" y2="242.20" stroke="#1a1a1a" stroke-width="1.3" />
<line x1="573.65" y1="1.70" x2="573.65" y2="7.70" stroke="#1a1a1a" stroke-width="1.3" />
<line x1="586.34" y1="236.20" x2="586.34" y2="247.20" stroke="#1a1a1a" stroke-width="1.3" />
<line x1="586.34" y1="1.70" x2="586.34" y2="12.70" stroke="#1a1a1a" stroke-width="1.3" />
<line x1="599.03" y1="236.20" x2="599.03" y2="242.20" stroke="#1a1a1a" stroke-width="1.3" />
<line x1="599.03" y1="1.70" x2="599.03" y2="7.70" stroke="#1a1a1a" stroke-width="1.3" />
<line x1="611.72" y1="236.20" x2="611.72" y2="247.20" stroke="#1a1a1a" stroke-width="1.3" />
<line x1="611.72" y1="1.70" x2="611.72" y2="12.70" stroke="#1a1a1a" stroke-width="1.3" />
<line x1="624.41" y1="236.20" x2="624.41" y2="242.20" stroke="#1a1a1a" stroke-width="1.3" />
<line x1="624.41" y1="1.70" x2="624.41" y2="7.70" stroke="#1a1a1a" stroke-width="1.3" />
<line x1="637.10" y1="236.20" x2="637.10" y2="247.20" stroke="#1a1a1a" stroke-width="1.3" />
<text x="365.30" y="27.00" font-size="14" text-anchor="end" fill="#111" stroke="#111" stroke-width="0.25" >0,0</text>
<text x="365.30" y="69.75" font-size="14" text-anchor="end" fill="#111" stroke="#111" stroke-width="0.25" >-0,1</text>
<text x="365.30" y="112.50" font-size="14" text-anchor="end" fill="#111" stroke="#111" stroke-width="0.25" >-0,2</text>
<text x="365.30" y="155.25" font-size="14" text-anchor="end" fill="#111" stroke="#111" stroke-width="0.25" >-0,3</text>
<text x="365.30" y="198.00" font-size="14" text-anchor="end" fill="#111" stroke="#111" stroke-width="0.25" >-0,4</text>
<text x="365.30" y="240.75" font-size="14" text-anchor="end" fill="#111" stroke="#111" stroke-width="0.25" >-0,5</text>
<text x="382.30" y="263.50" font-size="14" text-anchor="middle" fill="#111" stroke="#111" stroke-width="0.25" >-10</text>
<text x="408.68" y="263.50" font-size="14" text-anchor="middle" fill="#111" stroke="#111" stroke-width="0.25" >-8</text>
<text x="434.06" y="263.50" font-size="14" text-anchor="middle" fill="#111" stroke="#111" stroke-width="0.25" >-6</text>
<text x="459.44" y="263.50" font-size="14" text-anchor="middle" fill="#111" stroke="#111" stroke-width="0.25" >-4</text>
<text x="484.82" y="263.50" font-size="14" text-anchor="middle" fill="#111" stroke="#111" stroke-width="0.25" >-2</text>
<text x="510.20" y="263.50" font-size="14" text-anchor="middle" fill="#111" stroke="#111" stroke-width="0.25" >0</text>
<text x="535.58" y="263.50" font-size="14" text-anchor="middle" fill="#111" stroke="#111" stroke-width="0.25" >2</text>
<text x="560.96" y="263.50" font-size="14" text-anchor="middle" fill="#111" stroke="#111" stroke-width="0.25" >4</text>
<text x="586.34" y="263.50" font-size="14" text-anchor="middle" fill="#111" stroke="#111" stroke-width="0.25" >6</text>
<text x="611.72" y="263.50" font-size="14" text-anchor="middle" fill="#111" stroke="#111" stroke-width="0.25" >8</text>
<text x="639.30" y="263.50" font-size="14" text-anchor="end" fill="#111" stroke="#111" stroke-width="0.25" >10</text>
<text x="510.10" y="283.00" font-size="14.4" text-anchor="middle" fill="#111" stroke="#111" stroke-width="0.25" >Magnetic field [T]</text>
<text transform="translate(335.6,131.5) rotate(-90)" font-size="14.4" text-anchor="middle" fill="#111" stroke="#111" stroke-width="0.25">Δρ<tspan font-size="8.5" dy="3.5">mag</tspan><tspan dy="-3.5"> [μΩ cm]</tspan></text>
<text x="323.30" y="14.20" font-size="16" text-anchor="start" fill="#111" stroke="#111" stroke-width="0.25" >b<tspan dx="1.6">)</tspan></text>
<text transform="translate(607.60,135.60) scale(1,1.15)" font-size="9.2" text-anchor="start" fill="#111" stroke="#111" stroke-width="0.25" >150 K</text>
<text transform="translate(606.80,232.60) scale(1,1.15)" font-size="9.2" text-anchor="start" fill="#111" stroke="#111" stroke-width="0.25" >300 K</text>
<line x1="630.40" y1="138.40" x2="630.40" y2="217.50" stroke="#000" stroke-width="1.9" />
<polyline points="626.3,211.2 630.4,218.3 634.6,211.2" fill="none" stroke="#000" stroke-width="1.9"/>
<polygon points="385.1,48.8 473.6,17.1 481.4,19.2 481.0,28.6 479.9,29.3 394.5,66.5 388.9,62.0" fill="#757575" stroke="#757575" stroke-width="0.6" stroke-linejoin="round"/>
<polygon points="385.1,48.8 473.6,17.1 481.4,19.2 392.6,52.3" fill="#7b7b7b" />
<polygon points="392.6,52.3 481.4,19.2 481.0,28.6 479.9,29.3 394.5,66.5" fill="#717171" />
<polygon points="385.1,48.8 392.6,52.3 394.5,66.5 388.9,62.0" fill="#7a7a7a" />
<line x1="427.5" y1="62.0" x2="426.6" y2="51.7" stroke="#8181f2" stroke-width="3.1"/>
<line x1="427.0" y1="62.0" x2="426.1" y2="51.7" stroke="#a9a9ff" stroke-width="1.08"/>
<polygon points="426.2,46.5 429.6,51.4 423.6,51.9" fill="#8181f2" />
<ellipse cx="426.2" cy="45.7" rx="2.8" ry="1.6" fill="#d8707e" stroke="#b8384a" stroke-width="1.0"/>
<line x1="441.9" y1="55.2" x2="440.7" y2="46.3" stroke="#8181f2" stroke-width="3.1"/>
<line x1="441.4" y1="55.3" x2="440.2" y2="46.3" stroke="#a9a9ff" stroke-width="1.08"/>
<polygon points="440.0,41.1 443.7,45.9 437.7,46.7" fill="#8181f2" />
<ellipse cx="440.0" cy="40.3" rx="2.8" ry="1.6" fill="#d8707e" stroke="#b8384a" stroke-width="1.0"/>
<line x1="453.0" y1="48.9" x2="452.3" y2="41.4" stroke="#8181f2" stroke-width="3.1"/>
<line x1="452.5" y1="48.9" x2="451.9" y2="41.4" stroke="#a9a9ff" stroke-width="1.08"/>
<polygon points="451.9,36.2 455.3,41.1 449.4,41.6" fill="#8181f2" />
<ellipse cx="451.9" cy="35.4" rx="2.8" ry="1.6" fill="#d8707e" stroke="#b8384a" stroke-width="1.0"/>
<line x1="461.8" y1="45.6" x2="462.4" y2="36.9" stroke="#8181f2" stroke-width="3.1"/>
<line x1="461.3" y1="45.6" x2="461.9" y2="36.9" stroke="#a9a9ff" stroke-width="1.08"/>
<polygon points="462.8,31.7 465.4,37.1 459.4,36.7" fill="#8181f2" />
<ellipse cx="462.8" cy="30.9" rx="2.8" ry="1.6" fill="#d8707e" stroke="#b8384a" stroke-width="1.0"/>
<line x1="470.6" y1="39.4" x2="471.4" y2="32.8" stroke="#8181f2" stroke-width="3.1"/>
<line x1="470.1" y1="39.3" x2="470.9" y2="32.7" stroke="#a9a9ff" stroke-width="1.08"/>
<polygon points="472.1,27.6 474.4,33.1 468.5,32.4" fill="#8181f2" />
<ellipse cx="472.1" cy="26.8" rx="2.8" ry="1.6" fill="#d8707e" stroke="#b8384a" stroke-width="1.0"/>
<polygon points="392.5,79.0 474.9,41.0 477.8,43.1 477.8,49.9 476.4,50.9 401.0,94.5 394.5,90.3" fill="#757575" stroke="#757575" stroke-width="0.6" stroke-linejoin="round"/>
<polygon points="392.5,79.0 474.9,41.0 477.8,43.1 399.9,82.0" fill="#7b7b7b" />
<polygon points="399.9,82.0 477.8,43.1 477.8,49.9 476.4,50.9 401.0,94.5" fill="#717171" />
<polygon points="392.5,79.0 399.9,82.0 401.0,94.5 394.5,90.3" fill="#7a7a7a" />
<line x1="431.1" y1="87.1" x2="428.7" y2="77.4" stroke="#8181f2" stroke-width="2.6"/>
<line x1="430.6" y1="87.2" x2="428.2" y2="77.5" stroke="#a9a9ff" stroke-width="0.91"/>
<polygon points="427.8,73.9 431.0,76.8 426.3,78.0" fill="#8181f2" />
<ellipse cx="428.4" cy="75.9" rx="4.6" ry="2.7" fill="none" stroke="#c0404f" stroke-width="1.3"/>
<line x1="443.0" y1="79.4" x2="440.5" y2="70.0" stroke="#8181f2" stroke-width="2.6"/>
<line x1="442.5" y1="79.5" x2="440.0" y2="70.1" stroke="#a9a9ff" stroke-width="0.91"/>
<polygon points="439.6,66.5 442.8,69.4 438.2,70.6" fill="#8181f2" />
<ellipse cx="440.2" cy="68.5" rx="4.6" ry="2.7" fill="none" stroke="#c0404f" stroke-width="1.3"/>
<line x1="452.8" y1="72.4" x2="450.9" y2="64.2" stroke="#8181f2" stroke-width="2.6"/>
<line x1="452.3" y1="72.5" x2="450.4" y2="64.3" stroke="#a9a9ff" stroke-width="0.91"/>
<polygon points="450.1,60.7 453.2,63.7 448.6,64.7" fill="#8181f2" />
<ellipse cx="450.7" cy="62.7" rx="4.6" ry="2.7" fill="none" stroke="#c0404f" stroke-width="1.3"/>
<line x1="462.6" y1="64.6" x2="461.1" y2="58.5" stroke="#8181f2" stroke-width="2.6"/>
<line x1="462.1" y1="64.7" x2="460.6" y2="58.6" stroke="#a9a9ff" stroke-width="0.91"/>
<polygon points="460.2,55.0 463.4,57.9 458.7,59.1" fill="#8181f2" />
<ellipse cx="460.8" cy="57.0" rx="4.6" ry="2.7" fill="none" stroke="#c0404f" stroke-width="1.3"/>
<line x1="468.6" y1="59.8" x2="469.0" y2="53.8" stroke="#8181f2" stroke-width="2.6"/>
<line x1="468.1" y1="59.8" x2="468.5" y2="53.8" stroke="#a9a9ff" stroke-width="0.91"/>
<polygon points="469.2,50.2 471.4,53.9 466.6,53.6" fill="#8181f2" />
<ellipse cx="469.8" cy="52.2" rx="4.6" ry="2.7" fill="none" stroke="#c0404f" stroke-width="1.3"/>
<polygon points="398.2,102.5 471.2,61.0 475.4,63.1 475.2,68.3 474.9,68.8 405.0,117.1 400.3,112.4" fill="#757575" stroke="#757575" stroke-width="0.6" stroke-linejoin="round"/>
<polygon points="398.2,102.5 471.2,61.0 475.4,63.1 404.5,106.6" fill="#7b7b7b" />
<polygon points="404.5,106.6 475.4,63.1 475.2,68.3 474.9,68.8 405.0,117.1" fill="#717171" />
<polygon points="398.2,102.5 404.5,106.6 405.0,117.1 400.3,112.4" fill="#7a7a7a" />
<line x1="432.8" y1="109.3" x2="428.3" y2="101.1" stroke="#8181f2" stroke-width="2.6"/>
<line x1="432.4" y1="109.5" x2="427.9" y2="101.3" stroke="#a9a9ff" stroke-width="0.91"/>
<polygon points="426.6,97.9 430.4,99.9 426.2,102.2" fill="#8181f2" />
<ellipse cx="429.8" cy="100.1" rx="5.3" ry="4.3" fill="none" stroke="#c0404f" stroke-width="1.3"/>
<line x1="444.4" y1="100.1" x2="439.5" y2="93.0" stroke="#8181f2" stroke-width="2.6"/>
<line x1="444.0" y1="100.4" x2="439.1" y2="93.3" stroke="#a9a9ff" stroke-width="0.91"/>
<polygon points="437.5,90.0 441.5,91.6 437.5,94.3" fill="#8181f2" />
<ellipse cx="440.7" cy="92.2" rx="5.3" ry="4.3" fill="none" stroke="#c0404f" stroke-width="1.3"/>
<line x1="452.8" y1="92.6" x2="449.0" y2="86.7" stroke="#8181f2" stroke-width="2.6"/>
<line x1="452.4" y1="92.9" x2="448.6" y2="87.0" stroke="#a9a9ff" stroke-width="0.91"/>
<polygon points="447.1,83.7 451.1,85.4 447.0,88.0" fill="#8181f2" />
<ellipse cx="450.3" cy="85.9" rx="5.3" ry="4.3" fill="none" stroke="#c0404f" stroke-width="1.3"/>
<line x1="460.6" y1="84.6" x2="457.8" y2="80.9" stroke="#8181f2" stroke-width="2.6"/>
<line x1="460.2" y1="84.9" x2="457.4" y2="81.2" stroke="#a9a9ff" stroke-width="0.91"/>
<polygon points="455.7,78.0 459.8,79.5 455.9,82.3" fill="#8181f2" />
<ellipse cx="458.9" cy="80.2" rx="5.3" ry="4.3" fill="none" stroke="#c0404f" stroke-width="1.3"/>
<line x1="469.4" y1="78.8" x2="466.8" y2="75.1" stroke="#8181f2" stroke-width="2.6"/>
<line x1="469.0" y1="79.1" x2="466.4" y2="75.4" stroke="#a9a9ff" stroke-width="0.91"/>
<polygon points="464.7,72.2 468.7,73.7 464.8,76.5" fill="#8181f2" />
<ellipse cx="467.9" cy="74.4" rx="5.3" ry="4.3" fill="none" stroke="#c0404f" stroke-width="1.3"/>
<circle cx="400.8" cy="55.0" r="2.4" fill="#5a30e0"/>
<circle cx="400.3" cy="54.4" r="0.9" fill="#9a88ff"/>
<text x="399.20" y="62.60" font-size="6.5" text-anchor="start" fill="#4a28d8" stroke="#4a28d8" stroke-width="0.25" >e</text>
<line x1="402.60" y1="58.60" x2="404.40" y2="58.60" stroke="#4a28d8" stroke-width="0.7" />
<line x1="407.00" y1="53.00" x2="413.60" y2="50.40" stroke="#4a20d8" stroke-width="2.0" />
<polygon points="418.3,48.7 412.4,48.0 414.2,53.4" fill="#4a20d8" />
<line x1="487.30" y1="69.00" x2="487.30" y2="28.80" stroke="#c0505e" stroke-width="1.7" />
<polyline points="485.0,31.6 487.3,27.8 489.6,31.6" fill="none" stroke="#c0505e" stroke-width="1.5"/>
<text transform="translate(493.30,45.80) scale(1,1.15)" font-size="12.5" text-anchor="start" fill="#c0505e" stroke="#c0505e" stroke-width="0.25" >B</text>
<line x1="492.60" y1="33.40" x2="503.50" y2="33.40" stroke="#c0505e" stroke-width="1.2" />
<polyline points="501.2,31.5 504.4,33.4 501.2,35.3" fill="none" stroke="#c0505e" stroke-width="1.2"/>
</svg>
</body></html>
